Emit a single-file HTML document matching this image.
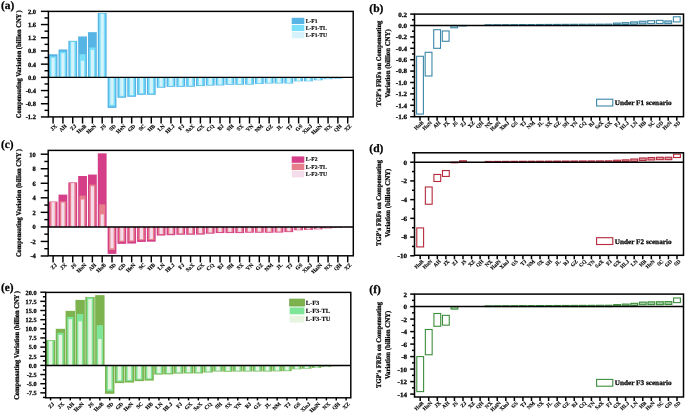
<!DOCTYPE html>
<html><head><meta charset="utf-8"><title>Figure</title>
<style>
html,body{margin:0;padding:0;background:#fff;}
svg{display:block;will-change:transform;}
text{text-rendering:geometricPrecision;font-family:'Liberation Serif', serif;font-weight:bold;fill:#000;stroke:#000;stroke-width:0.25px;}
text.xl{stroke-width:0.12px;}
</style></head><body>
<svg width="685" height="414" viewBox="0 0 685 414">
<rect width="685" height="414" fill="#fff"/>
<rect x="48.7" y="54.25" width="8.8" height="23.1" fill="#57B5E5"/>
<rect x="50.05" y="56.39" width="6.1" height="20.95" fill="#7ADFF9"/>
<rect x="51.5" y="57.88" width="3.2" height="19.47" fill="#D6F3FB"/>
<rect x="58.52" y="49.46" width="8.8" height="27.88" fill="#57B5E5"/>
<rect x="59.87" y="51.77" width="6.1" height="25.58" fill="#7ADFF9"/>
<rect x="61.32" y="53.26" width="3.2" height="24.09" fill="#D6F3FB"/>
<rect x="68.34" y="40.85" width="8.8" height="36.5" fill="#57B5E5"/>
<rect x="69.69" y="41.38" width="6.1" height="35.97" fill="#7ADFF9"/>
<rect x="71.14" y="42.04" width="3.2" height="35.31" fill="#D6F3FB"/>
<rect x="78.16" y="36.43" width="8.8" height="40.92" fill="#57B5E5"/>
<rect x="79.51" y="54.25" width="6.1" height="23.1" fill="#7ADFF9"/>
<rect x="80.96" y="60.85" width="3.2" height="16.5" fill="#D6F3FB"/>
<rect x="87.98" y="32.14" width="8.8" height="45.21" fill="#57B5E5"/>
<rect x="89.33" y="47.45" width="6.1" height="29.9" fill="#7ADFF9"/>
<rect x="90.78" y="49.96" width="3.2" height="27.39" fill="#D6F3FB"/>
<rect x="97.8" y="13" width="8.8" height="64.35" fill="#57B5E5"/>
<rect x="99.15" y="13.33" width="6.1" height="64.02" fill="#7ADFF9"/>
<rect x="100.6" y="13.82" width="3.2" height="63.52" fill="#D6F3FB"/>
<rect x="107.62" y="77.35" width="8.8" height="30.59" fill="#57B5E5"/>
<rect x="108.97" y="77.35" width="6.1" height="28.88" fill="#7ADFF9"/>
<rect x="110.42" y="77.35" width="3.2" height="27.39" fill="#D6F3FB"/>
<rect x="117.44" y="77.35" width="8.8" height="20.39" fill="#57B5E5"/>
<rect x="118.79" y="77.35" width="6.1" height="19.31" fill="#7ADFF9"/>
<rect x="120.24" y="77.35" width="3.2" height="18.48" fill="#D6F3FB"/>
<rect x="127.26" y="77.35" width="8.8" height="19.47" fill="#57B5E5"/>
<rect x="128.61" y="77.35" width="6.1" height="18.48" fill="#7ADFF9"/>
<rect x="130.06" y="77.35" width="3.2" height="17.66" fill="#D6F3FB"/>
<rect x="137.08" y="77.35" width="8.8" height="17.49" fill="#57B5E5"/>
<rect x="138.43" y="77.35" width="6.1" height="16.5" fill="#7ADFF9"/>
<rect x="139.88" y="77.35" width="3.2" height="15.84" fill="#D6F3FB"/>
<rect x="146.9" y="77.35" width="8.8" height="17.49" fill="#57B5E5"/>
<rect x="148.25" y="77.35" width="6.1" height="16.5" fill="#7ADFF9"/>
<rect x="149.7" y="77.35" width="3.2" height="15.84" fill="#D6F3FB"/>
<rect x="156.72" y="77.35" width="8.8" height="10.39" fill="#57B5E5"/>
<rect x="158.07" y="77.35" width="6.1" height="9.73" fill="#7ADFF9"/>
<rect x="159.52" y="77.35" width="3.2" height="9.24" fill="#D6F3FB"/>
<rect x="166.54" y="77.35" width="8.8" height="9.5" fill="#57B5E5"/>
<rect x="167.89" y="77.35" width="6.1" height="8.91" fill="#7ADFF9"/>
<rect x="169.34" y="77.35" width="3.2" height="8.42" fill="#D6F3FB"/>
<rect x="176.36" y="77.35" width="8.8" height="9.5" fill="#57B5E5"/>
<rect x="177.71" y="77.35" width="6.1" height="8.91" fill="#7ADFF9"/>
<rect x="179.16" y="77.35" width="3.2" height="8.42" fill="#D6F3FB"/>
<rect x="186.18" y="77.35" width="8.8" height="9.41" fill="#57B5E5"/>
<rect x="187.53" y="77.35" width="6.1" height="8.81" fill="#7ADFF9"/>
<rect x="188.98" y="77.35" width="3.2" height="8.25" fill="#D6F3FB"/>
<rect x="196" y="77.35" width="8.8" height="8.75" fill="#57B5E5"/>
<rect x="197.35" y="77.35" width="6.1" height="8.18" fill="#7ADFF9"/>
<rect x="198.8" y="77.35" width="3.2" height="7.75" fill="#D6F3FB"/>
<rect x="205.82" y="77.35" width="8.8" height="8.25" fill="#57B5E5"/>
<rect x="207.17" y="77.35" width="6.1" height="7.75" fill="#7ADFF9"/>
<rect x="208.62" y="77.35" width="3.2" height="7.26" fill="#D6F3FB"/>
<rect x="215.64" y="77.35" width="8.8" height="8.08" fill="#57B5E5"/>
<rect x="216.99" y="77.35" width="6.1" height="7.59" fill="#7ADFF9"/>
<rect x="218.44" y="77.35" width="3.2" height="7.09" fill="#D6F3FB"/>
<rect x="225.46" y="77.35" width="8.8" height="7.42" fill="#57B5E5"/>
<rect x="226.81" y="77.35" width="6.1" height="6.93" fill="#7ADFF9"/>
<rect x="228.26" y="77.35" width="3.2" height="6.6" fill="#D6F3FB"/>
<rect x="235.28" y="77.35" width="8.8" height="7.42" fill="#57B5E5"/>
<rect x="236.63" y="77.35" width="6.1" height="6.93" fill="#7ADFF9"/>
<rect x="238.08" y="77.35" width="3.2" height="6.6" fill="#D6F3FB"/>
<rect x="245.1" y="77.35" width="8.8" height="7.26" fill="#57B5E5"/>
<rect x="246.45" y="77.35" width="6.1" height="6.77" fill="#7ADFF9"/>
<rect x="247.9" y="77.35" width="3.2" height="6.44" fill="#D6F3FB"/>
<rect x="254.92" y="77.35" width="8.8" height="6.6" fill="#57B5E5"/>
<rect x="256.27" y="77.35" width="6.1" height="6.17" fill="#7ADFF9"/>
<rect x="257.72" y="77.35" width="3.2" height="5.84" fill="#D6F3FB"/>
<rect x="264.74" y="77.35" width="8.8" height="6.11" fill="#57B5E5"/>
<rect x="266.09" y="77.35" width="6.1" height="5.71" fill="#7ADFF9"/>
<rect x="267.54" y="77.35" width="3.2" height="5.38" fill="#D6F3FB"/>
<rect x="274.56" y="77.35" width="8.8" height="6.11" fill="#57B5E5"/>
<rect x="275.91" y="77.35" width="6.1" height="5.71" fill="#7ADFF9"/>
<rect x="277.36" y="77.35" width="3.2" height="5.38" fill="#D6F3FB"/>
<rect x="284.38" y="77.35" width="8.8" height="6.11" fill="#57B5E5"/>
<rect x="285.73" y="77.35" width="6.1" height="5.71" fill="#7ADFF9"/>
<rect x="287.18" y="77.35" width="3.2" height="5.38" fill="#D6F3FB"/>
<rect x="294.2" y="77.35" width="8.8" height="3.96" fill="#57B5E5"/>
<rect x="295.55" y="77.35" width="6.1" height="3.63" fill="#7ADFF9"/>
<rect x="297" y="77.35" width="3.2" height="3.3" fill="#D6F3FB"/>
<rect x="304.02" y="77.35" width="8.8" height="3.96" fill="#57B5E5"/>
<rect x="305.37" y="77.35" width="6.1" height="3.63" fill="#7ADFF9"/>
<rect x="306.82" y="77.35" width="3.2" height="3.3" fill="#D6F3FB"/>
<rect x="313.84" y="77.35" width="8.8" height="2.9" fill="#57B5E5"/>
<rect x="315.19" y="77.35" width="6.1" height="2.64" fill="#7ADFF9"/>
<rect x="316.64" y="77.35" width="3.2" height="2.38" fill="#D6F3FB"/>
<rect x="323.66" y="77.35" width="8.8" height="1.81" fill="#57B5E5"/>
<rect x="325.01" y="77.35" width="6.1" height="1.58" fill="#7ADFF9"/>
<rect x="326.46" y="77.35" width="3.2" height="1.39" fill="#D6F3FB"/>
<rect x="333.48" y="77.35" width="8.8" height="1.16" fill="#57B5E5"/>
<rect x="334.83" y="77.35" width="6.1" height="0.99" fill="#7ADFF9"/>
<rect x="336.28" y="77.35" width="3.2" height="0.83" fill="#D6F3FB"/>
<rect x="343.3" y="77.35" width="8.8" height="0.4" fill="#57B5E5"/>
<rect x="344.65" y="77.35" width="6.1" height="0.33" fill="#7ADFF9"/>
<rect x="346.1" y="77.35" width="3.2" height="0.26" fill="#D6F3FB"/>
<line x1="48.4" y1="77.35" x2="353.2" y2="77.35" stroke="#000" stroke-width="1.45"/>
<rect x="48.4" y="11.4" width="304.8" height="105.5" fill="none" stroke="#000" stroke-width="1.45"/>
<line x1="40.9" y1="11.35" x2="48.4" y2="11.35" stroke="#000" stroke-width="1.45"/>
<text transform="translate(36,13.79) scale(1.0,1)" font-size="6.5" text-anchor="end">2.0</text>
<line x1="40.9" y1="24.55" x2="48.4" y2="24.55" stroke="#000" stroke-width="1.45"/>
<text transform="translate(36,26.99) scale(1.0,1)" font-size="6.5" text-anchor="end">1.6</text>
<line x1="40.9" y1="37.75" x2="48.4" y2="37.75" stroke="#000" stroke-width="1.45"/>
<text transform="translate(36,40.19) scale(1.0,1)" font-size="6.5" text-anchor="end">1.2</text>
<line x1="40.9" y1="50.95" x2="48.4" y2="50.95" stroke="#000" stroke-width="1.45"/>
<text transform="translate(36,53.39) scale(1.0,1)" font-size="6.5" text-anchor="end">0.8</text>
<line x1="40.9" y1="64.15" x2="48.4" y2="64.15" stroke="#000" stroke-width="1.45"/>
<text transform="translate(36,66.59) scale(1.0,1)" font-size="6.5" text-anchor="end">0.4</text>
<line x1="40.9" y1="77.35" x2="48.4" y2="77.35" stroke="#000" stroke-width="1.45"/>
<text transform="translate(36,79.79) scale(1.0,1)" font-size="6.5" text-anchor="end">0.0</text>
<line x1="40.9" y1="90.55" x2="48.4" y2="90.55" stroke="#000" stroke-width="1.45"/>
<text transform="translate(36,92.99) scale(1.0,1)" font-size="6.5" text-anchor="end">-0.4</text>
<line x1="40.9" y1="103.75" x2="48.4" y2="103.75" stroke="#000" stroke-width="1.45"/>
<text transform="translate(36,106.19) scale(1.0,1)" font-size="6.5" text-anchor="end">-0.8</text>
<line x1="40.9" y1="116.95" x2="48.4" y2="116.95" stroke="#000" stroke-width="1.45"/>
<text transform="translate(36,119.39) scale(1.0,1)" font-size="6.5" text-anchor="end">-1.2</text>
<line x1="44.5" y1="17.95" x2="48.4" y2="17.95" stroke="#000" stroke-width="1.45"/>
<line x1="44.5" y1="31.15" x2="48.4" y2="31.15" stroke="#000" stroke-width="1.45"/>
<line x1="44.5" y1="44.35" x2="48.4" y2="44.35" stroke="#000" stroke-width="1.45"/>
<line x1="44.5" y1="57.55" x2="48.4" y2="57.55" stroke="#000" stroke-width="1.45"/>
<line x1="44.5" y1="70.75" x2="48.4" y2="70.75" stroke="#000" stroke-width="1.45"/>
<line x1="44.5" y1="83.95" x2="48.4" y2="83.95" stroke="#000" stroke-width="1.45"/>
<line x1="44.5" y1="97.15" x2="48.4" y2="97.15" stroke="#000" stroke-width="1.45"/>
<line x1="44.5" y1="110.35" x2="48.4" y2="110.35" stroke="#000" stroke-width="1.45"/>
<line x1="53.1" y1="116.9" x2="53.1" y2="123.5" stroke="#000" stroke-width="1.45"/>
<text transform="translate(57.4,126.5) scale(1.09,1) rotate(-45)" font-size="5.2" text-anchor="end" class="xl">JX</text>
<line x1="62.92" y1="116.9" x2="62.92" y2="123.5" stroke="#000" stroke-width="1.45"/>
<text transform="translate(67.22,126.5) scale(1.09,1) rotate(-45)" font-size="5.2" text-anchor="end" class="xl">AH</text>
<line x1="72.74" y1="116.9" x2="72.74" y2="123.5" stroke="#000" stroke-width="1.45"/>
<text transform="translate(77.04,126.5) scale(1.09,1) rotate(-45)" font-size="5.2" text-anchor="end" class="xl">ZJ</text>
<line x1="82.56" y1="116.9" x2="82.56" y2="123.5" stroke="#000" stroke-width="1.45"/>
<text transform="translate(86.86,126.5) scale(1.09,1) rotate(-45)" font-size="5.2" text-anchor="end" class="xl">HuB</text>
<line x1="92.38" y1="116.9" x2="92.38" y2="123.5" stroke="#000" stroke-width="1.45"/>
<text transform="translate(96.68,126.5) scale(1.09,1) rotate(-45)" font-size="5.2" text-anchor="end" class="xl">HuN</text>
<line x1="102.2" y1="116.9" x2="102.2" y2="123.5" stroke="#000" stroke-width="1.45"/>
<text transform="translate(106.5,126.5) scale(1.09,1) rotate(-45)" font-size="5.2" text-anchor="end" class="xl">JS</text>
<line x1="112.02" y1="116.9" x2="112.02" y2="123.5" stroke="#000" stroke-width="1.45"/>
<text transform="translate(116.32,126.5) scale(1.09,1) rotate(-45)" font-size="5.2" text-anchor="end" class="xl">SD</text>
<line x1="121.84" y1="116.9" x2="121.84" y2="123.5" stroke="#000" stroke-width="1.45"/>
<text transform="translate(126.14,126.5) scale(1.09,1) rotate(-45)" font-size="5.2" text-anchor="end" class="xl">HeN</text>
<line x1="131.66" y1="116.9" x2="131.66" y2="123.5" stroke="#000" stroke-width="1.45"/>
<text transform="translate(135.96,126.5) scale(1.09,1) rotate(-45)" font-size="5.2" text-anchor="end" class="xl">GD</text>
<line x1="141.48" y1="116.9" x2="141.48" y2="123.5" stroke="#000" stroke-width="1.45"/>
<text transform="translate(145.78,126.5) scale(1.09,1) rotate(-45)" font-size="5.2" text-anchor="end" class="xl">SC</text>
<line x1="151.3" y1="116.9" x2="151.3" y2="123.5" stroke="#000" stroke-width="1.45"/>
<text transform="translate(155.6,126.5) scale(1.09,1) rotate(-45)" font-size="5.2" text-anchor="end" class="xl">HB</text>
<line x1="161.12" y1="116.9" x2="161.12" y2="123.5" stroke="#000" stroke-width="1.45"/>
<text transform="translate(165.42,126.5) scale(1.09,1) rotate(-45)" font-size="5.2" text-anchor="end" class="xl">LN</text>
<line x1="170.94" y1="116.9" x2="170.94" y2="123.5" stroke="#000" stroke-width="1.45"/>
<text transform="translate(175.24,126.5) scale(1.09,1) rotate(-45)" font-size="5.2" text-anchor="end" class="xl">HLJ</text>
<line x1="180.76" y1="116.9" x2="180.76" y2="123.5" stroke="#000" stroke-width="1.45"/>
<text transform="translate(185.06,126.5) scale(1.09,1) rotate(-45)" font-size="5.2" text-anchor="end" class="xl">FJ</text>
<line x1="190.58" y1="116.9" x2="190.58" y2="123.5" stroke="#000" stroke-width="1.45"/>
<text transform="translate(194.88,126.5) scale(1.09,1) rotate(-45)" font-size="5.2" text-anchor="end" class="xl">SaX</text>
<line x1="200.4" y1="116.9" x2="200.4" y2="123.5" stroke="#000" stroke-width="1.45"/>
<text transform="translate(204.7,126.5) scale(1.09,1) rotate(-45)" font-size="5.2" text-anchor="end" class="xl">GX</text>
<line x1="210.22" y1="116.9" x2="210.22" y2="123.5" stroke="#000" stroke-width="1.45"/>
<text transform="translate(214.52,126.5) scale(1.09,1) rotate(-45)" font-size="5.2" text-anchor="end" class="xl">CQ</text>
<line x1="220.04" y1="116.9" x2="220.04" y2="123.5" stroke="#000" stroke-width="1.45"/>
<text transform="translate(224.34,126.5) scale(1.09,1) rotate(-45)" font-size="5.2" text-anchor="end" class="xl">BJ</text>
<line x1="229.86" y1="116.9" x2="229.86" y2="123.5" stroke="#000" stroke-width="1.45"/>
<text transform="translate(234.16,126.5) scale(1.09,1) rotate(-45)" font-size="5.2" text-anchor="end" class="xl">SH</text>
<line x1="239.68" y1="116.9" x2="239.68" y2="123.5" stroke="#000" stroke-width="1.45"/>
<text transform="translate(243.98,126.5) scale(1.09,1) rotate(-45)" font-size="5.2" text-anchor="end" class="xl">SX</text>
<line x1="249.5" y1="116.9" x2="249.5" y2="123.5" stroke="#000" stroke-width="1.45"/>
<text transform="translate(253.8,126.5) scale(1.09,1) rotate(-45)" font-size="5.2" text-anchor="end" class="xl">YN</text>
<line x1="259.32" y1="116.9" x2="259.32" y2="123.5" stroke="#000" stroke-width="1.45"/>
<text transform="translate(263.62,126.5) scale(1.09,1) rotate(-45)" font-size="5.2" text-anchor="end" class="xl">NM</text>
<line x1="269.14" y1="116.9" x2="269.14" y2="123.5" stroke="#000" stroke-width="1.45"/>
<text transform="translate(273.44,126.5) scale(1.09,1) rotate(-45)" font-size="5.2" text-anchor="end" class="xl">GZ</text>
<line x1="278.96" y1="116.9" x2="278.96" y2="123.5" stroke="#000" stroke-width="1.45"/>
<text transform="translate(283.26,126.5) scale(1.09,1) rotate(-45)" font-size="5.2" text-anchor="end" class="xl">JL</text>
<line x1="288.78" y1="116.9" x2="288.78" y2="123.5" stroke="#000" stroke-width="1.45"/>
<text transform="translate(293.08,126.5) scale(1.09,1) rotate(-45)" font-size="5.2" text-anchor="end" class="xl">TJ</text>
<line x1="298.6" y1="116.9" x2="298.6" y2="123.5" stroke="#000" stroke-width="1.45"/>
<text transform="translate(302.9,126.5) scale(1.09,1) rotate(-45)" font-size="5.2" text-anchor="end" class="xl">GS</text>
<line x1="308.42" y1="116.9" x2="308.42" y2="123.5" stroke="#000" stroke-width="1.45"/>
<text transform="translate(312.72,126.5) scale(1.09,1) rotate(-45)" font-size="5.2" text-anchor="end" class="xl">XinJ</text>
<line x1="318.24" y1="116.9" x2="318.24" y2="123.5" stroke="#000" stroke-width="1.45"/>
<text transform="translate(322.54,126.5) scale(1.09,1) rotate(-45)" font-size="5.2" text-anchor="end" class="xl">HaiN</text>
<line x1="328.06" y1="116.9" x2="328.06" y2="123.5" stroke="#000" stroke-width="1.45"/>
<text transform="translate(332.36,126.5) scale(1.09,1) rotate(-45)" font-size="5.2" text-anchor="end" class="xl">NX</text>
<line x1="337.88" y1="116.9" x2="337.88" y2="123.5" stroke="#000" stroke-width="1.45"/>
<text transform="translate(342.18,126.5) scale(1.09,1) rotate(-45)" font-size="5.2" text-anchor="end" class="xl">QH</text>
<line x1="347.7" y1="116.9" x2="347.7" y2="123.5" stroke="#000" stroke-width="1.45"/>
<text transform="translate(352,126.5) scale(1.09,1) rotate(-45)" font-size="5.2" text-anchor="end" class="xl">XZ</text>
<text transform="translate(20.8,64.2) rotate(-90) scale(1,1.09)" font-size="6.47" text-anchor="middle">Compensating Variation (billion CNY )</text>
<text x="0.9" y="8.8" font-size="11.4">(a)</text>
<rect x="291.7" y="17.8" width="12.6" height="6.2" fill="#57B5E5"/>
<text transform="translate(305.7,22.75) scale(1.0,1)" font-size="5.6" class="xl">L-F1</text>
<rect x="291.7" y="24.9" width="12.6" height="6.2" fill="#7ADFF9"/>
<text transform="translate(305.7,29.85) scale(1.0,1)" font-size="5.6" class="xl">L-F1-TL</text>
<rect x="291.7" y="32" width="12.6" height="6.2" fill="#D6F3FB"/>
<text transform="translate(305.7,36.95) scale(1.0,1)" font-size="5.6" class="xl">L-F1-TU</text>
<rect x="48.7" y="201.6" width="8.8" height="25.3" fill="#D53F88"/>
<rect x="50.05" y="201.89" width="6.1" height="25.01" fill="#E67E8B"/>
<rect x="51.5" y="202.18" width="3.2" height="24.72" fill="#F5DCEA"/>
<rect x="58.52" y="194.62" width="8.8" height="32.28" fill="#D53F88"/>
<rect x="59.87" y="201.31" width="6.1" height="25.59" fill="#E67E8B"/>
<rect x="61.32" y="202.55" width="3.2" height="24.35" fill="#F5DCEA"/>
<rect x="68.34" y="182.41" width="8.8" height="44.49" fill="#D53F88"/>
<rect x="69.69" y="182.7" width="6.1" height="44.2" fill="#E67E8B"/>
<rect x="71.14" y="183.13" width="3.2" height="43.77" fill="#F5DCEA"/>
<rect x="78.16" y="176.01" width="8.8" height="50.89" fill="#D53F88"/>
<rect x="79.51" y="195.64" width="6.1" height="31.26" fill="#E67E8B"/>
<rect x="80.96" y="199.49" width="3.2" height="27.41" fill="#F5DCEA"/>
<rect x="87.98" y="174.56" width="8.8" height="52.34" fill="#D53F88"/>
<rect x="89.33" y="184.52" width="6.1" height="42.38" fill="#E67E8B"/>
<rect x="90.78" y="186.19" width="3.2" height="40.71" fill="#F5DCEA"/>
<rect x="97.8" y="153.33" width="8.8" height="73.57" fill="#D53F88"/>
<rect x="99.15" y="204.36" width="6.1" height="22.54" fill="#E67E8B"/>
<rect x="100.6" y="214.32" width="3.2" height="12.58" fill="#F5DCEA"/>
<rect x="107.62" y="226.9" width="8.8" height="26.97" fill="#D53F88"/>
<rect x="108.97" y="226.9" width="6.1" height="23.26" fill="#E67E8B"/>
<rect x="110.42" y="226.9" width="3.2" height="21.45" fill="#F5DCEA"/>
<rect x="117.44" y="226.9" width="8.8" height="16.94" fill="#D53F88"/>
<rect x="118.79" y="226.9" width="6.1" height="14.9" fill="#E67E8B"/>
<rect x="120.24" y="226.9" width="3.2" height="13.81" fill="#F5DCEA"/>
<rect x="127.26" y="226.9" width="8.8" height="16.65" fill="#D53F88"/>
<rect x="128.61" y="226.9" width="6.1" height="14.69" fill="#E67E8B"/>
<rect x="130.06" y="226.9" width="3.2" height="13.59" fill="#F5DCEA"/>
<rect x="137.08" y="226.9" width="8.8" height="15.05" fill="#D53F88"/>
<rect x="138.43" y="226.9" width="6.1" height="13.3" fill="#E67E8B"/>
<rect x="139.88" y="226.9" width="3.2" height="12.36" fill="#F5DCEA"/>
<rect x="146.9" y="226.9" width="8.8" height="14.76" fill="#D53F88"/>
<rect x="148.25" y="226.9" width="6.1" height="13.09" fill="#E67E8B"/>
<rect x="149.7" y="226.9" width="3.2" height="12.14" fill="#F5DCEA"/>
<rect x="156.72" y="226.9" width="8.8" height="8.65" fill="#D53F88"/>
<rect x="158.07" y="226.9" width="6.1" height="7.63" fill="#E67E8B"/>
<rect x="159.52" y="226.9" width="3.2" height="7.05" fill="#F5DCEA"/>
<rect x="166.54" y="226.9" width="8.8" height="8.29" fill="#D53F88"/>
<rect x="167.89" y="226.9" width="6.1" height="7.27" fill="#E67E8B"/>
<rect x="169.34" y="226.9" width="3.2" height="6.76" fill="#F5DCEA"/>
<rect x="176.36" y="226.9" width="8.8" height="7.85" fill="#D53F88"/>
<rect x="177.71" y="226.9" width="6.1" height="6.91" fill="#E67E8B"/>
<rect x="179.16" y="226.9" width="3.2" height="6.4" fill="#F5DCEA"/>
<rect x="186.18" y="226.9" width="8.8" height="7.85" fill="#D53F88"/>
<rect x="187.53" y="226.9" width="6.1" height="6.91" fill="#E67E8B"/>
<rect x="188.98" y="226.9" width="3.2" height="6.4" fill="#F5DCEA"/>
<rect x="196" y="226.9" width="8.8" height="7.71" fill="#D53F88"/>
<rect x="197.35" y="226.9" width="6.1" height="6.76" fill="#E67E8B"/>
<rect x="198.8" y="226.9" width="3.2" height="6.25" fill="#F5DCEA"/>
<rect x="205.82" y="226.9" width="8.8" height="6.76" fill="#D53F88"/>
<rect x="207.17" y="226.9" width="6.1" height="5.96" fill="#E67E8B"/>
<rect x="208.62" y="226.9" width="3.2" height="5.53" fill="#F5DCEA"/>
<rect x="215.64" y="226.9" width="8.8" height="6.18" fill="#D53F88"/>
<rect x="216.99" y="226.9" width="6.1" height="5.45" fill="#E67E8B"/>
<rect x="218.44" y="226.9" width="3.2" height="5.02" fill="#F5DCEA"/>
<rect x="225.46" y="226.9" width="8.8" height="6.18" fill="#D53F88"/>
<rect x="226.81" y="226.9" width="6.1" height="5.45" fill="#E67E8B"/>
<rect x="228.26" y="226.9" width="3.2" height="5.02" fill="#F5DCEA"/>
<rect x="235.28" y="226.9" width="8.8" height="6.18" fill="#D53F88"/>
<rect x="236.63" y="226.9" width="6.1" height="5.45" fill="#E67E8B"/>
<rect x="238.08" y="226.9" width="3.2" height="5.02" fill="#F5DCEA"/>
<rect x="245.1" y="226.9" width="8.8" height="5.82" fill="#D53F88"/>
<rect x="246.45" y="226.9" width="6.1" height="5.09" fill="#E67E8B"/>
<rect x="247.9" y="226.9" width="3.2" height="4.73" fill="#F5DCEA"/>
<rect x="254.92" y="226.9" width="8.8" height="5.82" fill="#D53F88"/>
<rect x="256.27" y="226.9" width="6.1" height="5.09" fill="#E67E8B"/>
<rect x="257.72" y="226.9" width="3.2" height="4.73" fill="#F5DCEA"/>
<rect x="264.74" y="226.9" width="8.8" height="5.82" fill="#D53F88"/>
<rect x="266.09" y="226.9" width="6.1" height="5.09" fill="#E67E8B"/>
<rect x="267.54" y="226.9" width="3.2" height="4.73" fill="#F5DCEA"/>
<rect x="274.56" y="226.9" width="8.8" height="5.67" fill="#D53F88"/>
<rect x="275.91" y="226.9" width="6.1" height="4.94" fill="#E67E8B"/>
<rect x="277.36" y="226.9" width="3.2" height="4.58" fill="#F5DCEA"/>
<rect x="284.38" y="226.9" width="8.8" height="5.23" fill="#D53F88"/>
<rect x="285.73" y="226.9" width="6.1" height="4.58" fill="#E67E8B"/>
<rect x="287.18" y="226.9" width="3.2" height="4.22" fill="#F5DCEA"/>
<rect x="294.2" y="226.9" width="8.8" height="3.34" fill="#D53F88"/>
<rect x="295.55" y="226.9" width="6.1" height="2.91" fill="#E67E8B"/>
<rect x="297" y="226.9" width="3.2" height="2.69" fill="#F5DCEA"/>
<rect x="304.02" y="226.9" width="8.8" height="2.98" fill="#D53F88"/>
<rect x="305.37" y="226.9" width="6.1" height="2.62" fill="#E67E8B"/>
<rect x="306.82" y="226.9" width="3.2" height="2.4" fill="#F5DCEA"/>
<rect x="313.84" y="226.9" width="8.8" height="2.4" fill="#D53F88"/>
<rect x="315.19" y="226.9" width="6.1" height="2.11" fill="#E67E8B"/>
<rect x="316.64" y="226.9" width="3.2" height="1.89" fill="#F5DCEA"/>
<rect x="323.66" y="226.9" width="8.8" height="1.45" fill="#D53F88"/>
<rect x="325.01" y="226.9" width="6.1" height="1.24" fill="#E67E8B"/>
<rect x="326.46" y="226.9" width="3.2" height="1.09" fill="#F5DCEA"/>
<rect x="333.48" y="226.9" width="8.8" height="0.87" fill="#D53F88"/>
<rect x="334.83" y="226.9" width="6.1" height="0.73" fill="#E67E8B"/>
<rect x="336.28" y="226.9" width="3.2" height="0.65" fill="#F5DCEA"/>
<rect x="343.3" y="226.9" width="8.8" height="0.22" fill="#D53F88"/>
<rect x="344.65" y="226.9" width="6.1" height="0.18" fill="#E67E8B"/>
<rect x="346.1" y="226.9" width="3.2" height="0.15" fill="#F5DCEA"/>
<line x1="48.2" y1="226.9" x2="353.3" y2="226.9" stroke="#000" stroke-width="1.45"/>
<rect x="48.2" y="150.4" width="305.1" height="105.4" fill="none" stroke="#000" stroke-width="1.45"/>
<line x1="40.7" y1="154.2" x2="48.2" y2="154.2" stroke="#000" stroke-width="1.45"/>
<text transform="translate(35.8,156.65) scale(1.0,1)" font-size="6.5" text-anchor="end">10</text>
<line x1="40.7" y1="168.74" x2="48.2" y2="168.74" stroke="#000" stroke-width="1.45"/>
<text transform="translate(35.8,171.19) scale(1.0,1)" font-size="6.5" text-anchor="end">8</text>
<line x1="40.7" y1="183.28" x2="48.2" y2="183.28" stroke="#000" stroke-width="1.45"/>
<text transform="translate(35.8,185.73) scale(1.0,1)" font-size="6.5" text-anchor="end">6</text>
<line x1="40.7" y1="197.82" x2="48.2" y2="197.82" stroke="#000" stroke-width="1.45"/>
<text transform="translate(35.8,200.27) scale(1.0,1)" font-size="6.5" text-anchor="end">4</text>
<line x1="40.7" y1="212.36" x2="48.2" y2="212.36" stroke="#000" stroke-width="1.45"/>
<text transform="translate(35.8,214.81) scale(1.0,1)" font-size="6.5" text-anchor="end">2</text>
<line x1="40.7" y1="226.9" x2="48.2" y2="226.9" stroke="#000" stroke-width="1.45"/>
<text transform="translate(35.8,229.35) scale(1.0,1)" font-size="6.5" text-anchor="end">0</text>
<line x1="40.7" y1="241.44" x2="48.2" y2="241.44" stroke="#000" stroke-width="1.45"/>
<text transform="translate(35.8,243.89) scale(1.0,1)" font-size="6.5" text-anchor="end">-2</text>
<line x1="40.7" y1="255.98" x2="48.2" y2="255.98" stroke="#000" stroke-width="1.45"/>
<text transform="translate(35.8,258.43) scale(1.0,1)" font-size="6.5" text-anchor="end">-4</text>
<line x1="44.3" y1="161.47" x2="48.2" y2="161.47" stroke="#000" stroke-width="1.45"/>
<line x1="44.3" y1="176.01" x2="48.2" y2="176.01" stroke="#000" stroke-width="1.45"/>
<line x1="44.3" y1="190.55" x2="48.2" y2="190.55" stroke="#000" stroke-width="1.45"/>
<line x1="44.3" y1="205.09" x2="48.2" y2="205.09" stroke="#000" stroke-width="1.45"/>
<line x1="44.3" y1="219.63" x2="48.2" y2="219.63" stroke="#000" stroke-width="1.45"/>
<line x1="44.3" y1="234.17" x2="48.2" y2="234.17" stroke="#000" stroke-width="1.45"/>
<line x1="44.3" y1="248.71" x2="48.2" y2="248.71" stroke="#000" stroke-width="1.45"/>
<line x1="53.1" y1="255.8" x2="53.1" y2="262.4" stroke="#000" stroke-width="1.45"/>
<text transform="translate(57.4,265.4) scale(1.09,1) rotate(-45)" font-size="5.2" text-anchor="end" class="xl">ZJ</text>
<line x1="62.92" y1="255.8" x2="62.92" y2="262.4" stroke="#000" stroke-width="1.45"/>
<text transform="translate(67.22,265.4) scale(1.09,1) rotate(-45)" font-size="5.2" text-anchor="end" class="xl">JX</text>
<line x1="72.74" y1="255.8" x2="72.74" y2="262.4" stroke="#000" stroke-width="1.45"/>
<text transform="translate(77.04,265.4) scale(1.09,1) rotate(-45)" font-size="5.2" text-anchor="end" class="xl">JS</text>
<line x1="82.56" y1="255.8" x2="82.56" y2="262.4" stroke="#000" stroke-width="1.45"/>
<text transform="translate(86.86,265.4) scale(1.09,1) rotate(-45)" font-size="5.2" text-anchor="end" class="xl">HuN</text>
<line x1="92.38" y1="255.8" x2="92.38" y2="262.4" stroke="#000" stroke-width="1.45"/>
<text transform="translate(96.68,265.4) scale(1.09,1) rotate(-45)" font-size="5.2" text-anchor="end" class="xl">AH</text>
<line x1="102.2" y1="255.8" x2="102.2" y2="262.4" stroke="#000" stroke-width="1.45"/>
<text transform="translate(106.5,265.4) scale(1.09,1) rotate(-45)" font-size="5.2" text-anchor="end" class="xl">HuB</text>
<line x1="112.02" y1="255.8" x2="112.02" y2="262.4" stroke="#000" stroke-width="1.45"/>
<text transform="translate(116.32,265.4) scale(1.09,1) rotate(-45)" font-size="5.2" text-anchor="end" class="xl">SD</text>
<line x1="121.84" y1="255.8" x2="121.84" y2="262.4" stroke="#000" stroke-width="1.45"/>
<text transform="translate(126.14,265.4) scale(1.09,1) rotate(-45)" font-size="5.2" text-anchor="end" class="xl">GD</text>
<line x1="131.66" y1="255.8" x2="131.66" y2="262.4" stroke="#000" stroke-width="1.45"/>
<text transform="translate(135.96,265.4) scale(1.09,1) rotate(-45)" font-size="5.2" text-anchor="end" class="xl">HeN</text>
<line x1="141.48" y1="255.8" x2="141.48" y2="262.4" stroke="#000" stroke-width="1.45"/>
<text transform="translate(145.78,265.4) scale(1.09,1) rotate(-45)" font-size="5.2" text-anchor="end" class="xl">SC</text>
<line x1="151.3" y1="255.8" x2="151.3" y2="262.4" stroke="#000" stroke-width="1.45"/>
<text transform="translate(155.6,265.4) scale(1.09,1) rotate(-45)" font-size="5.2" text-anchor="end" class="xl">HB</text>
<line x1="161.12" y1="255.8" x2="161.12" y2="262.4" stroke="#000" stroke-width="1.45"/>
<text transform="translate(165.42,265.4) scale(1.09,1) rotate(-45)" font-size="5.2" text-anchor="end" class="xl">LN</text>
<line x1="170.94" y1="255.8" x2="170.94" y2="262.4" stroke="#000" stroke-width="1.45"/>
<text transform="translate(175.24,265.4) scale(1.09,1) rotate(-45)" font-size="5.2" text-anchor="end" class="xl">HLJ</text>
<line x1="180.76" y1="255.8" x2="180.76" y2="262.4" stroke="#000" stroke-width="1.45"/>
<text transform="translate(185.06,265.4) scale(1.09,1) rotate(-45)" font-size="5.2" text-anchor="end" class="xl">FJ</text>
<line x1="190.58" y1="255.8" x2="190.58" y2="262.4" stroke="#000" stroke-width="1.45"/>
<text transform="translate(194.88,265.4) scale(1.09,1) rotate(-45)" font-size="5.2" text-anchor="end" class="xl">SaX</text>
<line x1="200.4" y1="255.8" x2="200.4" y2="262.4" stroke="#000" stroke-width="1.45"/>
<text transform="translate(204.7,265.4) scale(1.09,1) rotate(-45)" font-size="5.2" text-anchor="end" class="xl">GX</text>
<line x1="210.22" y1="255.8" x2="210.22" y2="262.4" stroke="#000" stroke-width="1.45"/>
<text transform="translate(214.52,265.4) scale(1.09,1) rotate(-45)" font-size="5.2" text-anchor="end" class="xl">CQ</text>
<line x1="220.04" y1="255.8" x2="220.04" y2="262.4" stroke="#000" stroke-width="1.45"/>
<text transform="translate(224.34,265.4) scale(1.09,1) rotate(-45)" font-size="5.2" text-anchor="end" class="xl">BJ</text>
<line x1="229.86" y1="255.8" x2="229.86" y2="262.4" stroke="#000" stroke-width="1.45"/>
<text transform="translate(234.16,265.4) scale(1.09,1) rotate(-45)" font-size="5.2" text-anchor="end" class="xl">SH</text>
<line x1="239.68" y1="255.8" x2="239.68" y2="262.4" stroke="#000" stroke-width="1.45"/>
<text transform="translate(243.98,265.4) scale(1.09,1) rotate(-45)" font-size="5.2" text-anchor="end" class="xl">SX</text>
<line x1="249.5" y1="255.8" x2="249.5" y2="262.4" stroke="#000" stroke-width="1.45"/>
<text transform="translate(253.8,265.4) scale(1.09,1) rotate(-45)" font-size="5.2" text-anchor="end" class="xl">YN</text>
<line x1="259.32" y1="255.8" x2="259.32" y2="262.4" stroke="#000" stroke-width="1.45"/>
<text transform="translate(263.62,265.4) scale(1.09,1) rotate(-45)" font-size="5.2" text-anchor="end" class="xl">GZ</text>
<line x1="269.14" y1="255.8" x2="269.14" y2="262.4" stroke="#000" stroke-width="1.45"/>
<text transform="translate(273.44,265.4) scale(1.09,1) rotate(-45)" font-size="5.2" text-anchor="end" class="xl">NM</text>
<line x1="278.96" y1="255.8" x2="278.96" y2="262.4" stroke="#000" stroke-width="1.45"/>
<text transform="translate(283.26,265.4) scale(1.09,1) rotate(-45)" font-size="5.2" text-anchor="end" class="xl">JL</text>
<line x1="288.78" y1="255.8" x2="288.78" y2="262.4" stroke="#000" stroke-width="1.45"/>
<text transform="translate(293.08,265.4) scale(1.09,1) rotate(-45)" font-size="5.2" text-anchor="end" class="xl">TJ</text>
<line x1="298.6" y1="255.8" x2="298.6" y2="262.4" stroke="#000" stroke-width="1.45"/>
<text transform="translate(302.9,265.4) scale(1.09,1) rotate(-45)" font-size="5.2" text-anchor="end" class="xl">GS</text>
<line x1="308.42" y1="255.8" x2="308.42" y2="262.4" stroke="#000" stroke-width="1.45"/>
<text transform="translate(312.72,265.4) scale(1.09,1) rotate(-45)" font-size="5.2" text-anchor="end" class="xl">XinJ</text>
<line x1="318.24" y1="255.8" x2="318.24" y2="262.4" stroke="#000" stroke-width="1.45"/>
<text transform="translate(322.54,265.4) scale(1.09,1) rotate(-45)" font-size="5.2" text-anchor="end" class="xl">HaiN</text>
<line x1="328.06" y1="255.8" x2="328.06" y2="262.4" stroke="#000" stroke-width="1.45"/>
<text transform="translate(332.36,265.4) scale(1.09,1) rotate(-45)" font-size="5.2" text-anchor="end" class="xl">NX</text>
<line x1="337.88" y1="255.8" x2="337.88" y2="262.4" stroke="#000" stroke-width="1.45"/>
<text transform="translate(342.18,265.4) scale(1.09,1) rotate(-45)" font-size="5.2" text-anchor="end" class="xl">QH</text>
<line x1="347.7" y1="255.8" x2="347.7" y2="262.4" stroke="#000" stroke-width="1.45"/>
<text transform="translate(352,265.4) scale(1.09,1) rotate(-45)" font-size="5.2" text-anchor="end" class="xl">XZ</text>
<text transform="translate(20.8,203.1) rotate(-90) scale(1,1.09)" font-size="6.47" text-anchor="middle">Compensating Variation (billion CNY )</text>
<text x="0.9" y="148.3" font-size="11.4">(c)</text>
<rect x="291.7" y="156.4" width="12.6" height="6.4" fill="#D53F88"/>
<text transform="translate(305.7,161.45) scale(1.0,1)" font-size="5.6" class="xl">L-F2</text>
<rect x="291.7" y="163.7" width="12.6" height="6.4" fill="#E67E8B"/>
<text transform="translate(305.7,168.75) scale(1.0,1)" font-size="5.6" class="xl">L-F2-TL</text>
<rect x="291.7" y="171" width="12.6" height="6.4" fill="#F5DCEA"/>
<text transform="translate(305.7,176.05) scale(1.0,1)" font-size="5.6" class="xl">L-F2-TU</text>
<rect x="45.9" y="340.15" width="9.4" height="25.25" fill="#7CB34F"/>
<rect x="47.45" y="340.51" width="6.3" height="24.89" fill="#7FE599"/>
<rect x="48.85" y="341.06" width="3.5" height="24.34" fill="#E6F4E0"/>
<rect x="55.75" y="328.8" width="9.4" height="36.6" fill="#7CB34F"/>
<rect x="57.3" y="332.83" width="6.3" height="32.57" fill="#7FE599"/>
<rect x="58.7" y="335.02" width="3.5" height="30.38" fill="#E6F4E0"/>
<rect x="65.6" y="310.87" width="9.4" height="54.53" fill="#7CB34F"/>
<rect x="67.15" y="316.9" width="6.3" height="48.5" fill="#7FE599"/>
<rect x="68.55" y="319.28" width="3.5" height="46.12" fill="#E6F4E0"/>
<rect x="75.45" y="299.89" width="9.4" height="65.51" fill="#7CB34F"/>
<rect x="77" y="313.98" width="6.3" height="51.42" fill="#7FE599"/>
<rect x="78.4" y="321.3" width="3.5" height="44.1" fill="#E6F4E0"/>
<rect x="85.3" y="296.96" width="9.4" height="68.44" fill="#7CB34F"/>
<rect x="86.85" y="297.32" width="6.3" height="68.08" fill="#7FE599"/>
<rect x="88.25" y="299.15" width="3.5" height="66.25" fill="#E6F4E0"/>
<rect x="95.15" y="295.13" width="9.4" height="70.27" fill="#7CB34F"/>
<rect x="96.7" y="325.14" width="6.3" height="40.26" fill="#7FE599"/>
<rect x="98.1" y="339.05" width="3.5" height="26.35" fill="#E6F4E0"/>
<rect x="105" y="365.4" width="9.4" height="28.4" fill="#7CB34F"/>
<rect x="106.55" y="365.4" width="6.3" height="25.8" fill="#7FE599"/>
<rect x="107.95" y="365.4" width="3.5" height="24.01" fill="#E6F4E0"/>
<rect x="114.85" y="365.4" width="9.4" height="17.71" fill="#7CB34F"/>
<rect x="116.4" y="365.4" width="6.3" height="16.1" fill="#7FE599"/>
<rect x="117.8" y="365.4" width="3.5" height="15.01" fill="#E6F4E0"/>
<rect x="124.7" y="365.4" width="9.4" height="17.13" fill="#7CB34F"/>
<rect x="126.25" y="365.4" width="6.3" height="15.56" fill="#7FE599"/>
<rect x="127.65" y="365.4" width="3.5" height="14.46" fill="#E6F4E0"/>
<rect x="134.55" y="365.4" width="9.4" height="15.74" fill="#7CB34F"/>
<rect x="136.1" y="365.4" width="6.3" height="14.27" fill="#7FE599"/>
<rect x="137.5" y="365.4" width="3.5" height="13.29" fill="#E6F4E0"/>
<rect x="144.4" y="365.4" width="9.4" height="15.19" fill="#7CB34F"/>
<rect x="145.95" y="365.4" width="6.3" height="13.8" fill="#7FE599"/>
<rect x="147.35" y="365.4" width="3.5" height="12.81" fill="#E6F4E0"/>
<rect x="154.25" y="365.4" width="9.4" height="9.15" fill="#7CB34F"/>
<rect x="155.8" y="365.4" width="6.3" height="8.31" fill="#7FE599"/>
<rect x="157.2" y="365.4" width="3.5" height="7.69" fill="#E6F4E0"/>
<rect x="164.1" y="365.4" width="9.4" height="8.97" fill="#7CB34F"/>
<rect x="165.65" y="365.4" width="6.3" height="8.13" fill="#7FE599"/>
<rect x="167.05" y="365.4" width="3.5" height="7.54" fill="#E6F4E0"/>
<rect x="173.95" y="365.4" width="9.4" height="8.2" fill="#7CB34F"/>
<rect x="175.5" y="365.4" width="6.3" height="7.43" fill="#7FE599"/>
<rect x="176.9" y="365.4" width="3.5" height="6.95" fill="#E6F4E0"/>
<rect x="183.8" y="365.4" width="9.4" height="8.02" fill="#7CB34F"/>
<rect x="185.35" y="365.4" width="6.3" height="7.28" fill="#7FE599"/>
<rect x="186.75" y="365.4" width="3.5" height="6.77" fill="#E6F4E0"/>
<rect x="193.65" y="365.4" width="9.4" height="8.02" fill="#7CB34F"/>
<rect x="195.2" y="365.4" width="6.3" height="7.28" fill="#7FE599"/>
<rect x="196.6" y="365.4" width="3.5" height="6.77" fill="#E6F4E0"/>
<rect x="203.5" y="365.4" width="9.4" height="7.06" fill="#7CB34F"/>
<rect x="205.05" y="365.4" width="6.3" height="6.4" fill="#7FE599"/>
<rect x="206.45" y="365.4" width="3.5" height="5.97" fill="#E6F4E0"/>
<rect x="213.35" y="365.4" width="9.4" height="6.11" fill="#7CB34F"/>
<rect x="214.9" y="365.4" width="6.3" height="5.56" fill="#7FE599"/>
<rect x="216.3" y="365.4" width="3.5" height="5.16" fill="#E6F4E0"/>
<rect x="223.2" y="365.4" width="9.4" height="6.3" fill="#7CB34F"/>
<rect x="224.75" y="365.4" width="6.3" height="5.71" fill="#7FE599"/>
<rect x="226.15" y="365.4" width="3.5" height="5.31" fill="#E6F4E0"/>
<rect x="233.05" y="365.4" width="9.4" height="6.11" fill="#7CB34F"/>
<rect x="234.6" y="365.4" width="6.3" height="5.56" fill="#7FE599"/>
<rect x="236" y="365.4" width="3.5" height="5.16" fill="#E6F4E0"/>
<rect x="242.9" y="365.4" width="9.4" height="6.11" fill="#7CB34F"/>
<rect x="244.45" y="365.4" width="6.3" height="5.56" fill="#7FE599"/>
<rect x="245.85" y="365.4" width="3.5" height="5.16" fill="#E6F4E0"/>
<rect x="252.75" y="365.4" width="9.4" height="6.11" fill="#7CB34F"/>
<rect x="254.3" y="365.4" width="6.3" height="5.56" fill="#7FE599"/>
<rect x="255.7" y="365.4" width="3.5" height="5.16" fill="#E6F4E0"/>
<rect x="262.6" y="365.4" width="9.4" height="6.11" fill="#7CB34F"/>
<rect x="264.15" y="365.4" width="6.3" height="5.56" fill="#7FE599"/>
<rect x="265.55" y="365.4" width="3.5" height="5.16" fill="#E6F4E0"/>
<rect x="272.45" y="365.4" width="9.4" height="5.93" fill="#7CB34F"/>
<rect x="274" y="365.4" width="6.3" height="5.38" fill="#7FE599"/>
<rect x="275.4" y="365.4" width="3.5" height="5.01" fill="#E6F4E0"/>
<rect x="282.3" y="365.4" width="9.4" height="5.75" fill="#7CB34F"/>
<rect x="283.85" y="365.4" width="6.3" height="5.23" fill="#7FE599"/>
<rect x="285.25" y="365.4" width="3.5" height="4.87" fill="#E6F4E0"/>
<rect x="292.15" y="365.4" width="9.4" height="3.84" fill="#7CB34F"/>
<rect x="293.7" y="365.4" width="6.3" height="3.48" fill="#7FE599"/>
<rect x="295.1" y="365.4" width="3.5" height="3.22" fill="#E6F4E0"/>
<rect x="302" y="365.4" width="9.4" height="3.29" fill="#7CB34F"/>
<rect x="303.55" y="365.4" width="6.3" height="3" fill="#7FE599"/>
<rect x="304.95" y="365.4" width="3.5" height="2.78" fill="#E6F4E0"/>
<rect x="311.85" y="365.4" width="9.4" height="2.49" fill="#7CB34F"/>
<rect x="313.4" y="365.4" width="6.3" height="2.27" fill="#7FE599"/>
<rect x="314.8" y="365.4" width="3.5" height="2.09" fill="#E6F4E0"/>
<rect x="321.7" y="365.4" width="9.4" height="1.54" fill="#7CB34F"/>
<rect x="323.25" y="365.4" width="6.3" height="1.39" fill="#7FE599"/>
<rect x="324.65" y="365.4" width="3.5" height="1.28" fill="#E6F4E0"/>
<rect x="331.55" y="365.4" width="9.4" height="0.73" fill="#7CB34F"/>
<rect x="333.1" y="365.4" width="6.3" height="0.66" fill="#7FE599"/>
<rect x="334.5" y="365.4" width="3.5" height="0.59" fill="#E6F4E0"/>
<rect x="341.4" y="365.4" width="9.4" height="0.18" fill="#7CB34F"/>
<rect x="342.95" y="365.4" width="6.3" height="0.15" fill="#7FE599"/>
<rect x="344.35" y="365.4" width="3.5" height="0.11" fill="#E6F4E0"/>
<line x1="45.7" y1="365.4" x2="350.8" y2="365.4" stroke="#000" stroke-width="1.45"/>
<rect x="45.7" y="292.4" width="305.1" height="105.4" fill="none" stroke="#000" stroke-width="1.45"/>
<line x1="40.3" y1="292.2" x2="45.7" y2="292.2" stroke="#000" stroke-width="1.45"/>
<text transform="translate(36.6,294.58) scale(1.0,1)" font-size="6.3" text-anchor="end">20.0</text>
<line x1="40.3" y1="301.35" x2="45.7" y2="301.35" stroke="#000" stroke-width="1.45"/>
<text transform="translate(36.6,303.73) scale(1.0,1)" font-size="6.3" text-anchor="end">17.5</text>
<line x1="40.3" y1="310.5" x2="45.7" y2="310.5" stroke="#000" stroke-width="1.45"/>
<text transform="translate(36.6,312.88) scale(1.0,1)" font-size="6.3" text-anchor="end">15.0</text>
<line x1="40.3" y1="319.65" x2="45.7" y2="319.65" stroke="#000" stroke-width="1.45"/>
<text transform="translate(36.6,322.03) scale(1.0,1)" font-size="6.3" text-anchor="end">12.5</text>
<line x1="40.3" y1="328.8" x2="45.7" y2="328.8" stroke="#000" stroke-width="1.45"/>
<text transform="translate(36.6,331.18) scale(1.0,1)" font-size="6.3" text-anchor="end">10.0</text>
<line x1="40.3" y1="337.95" x2="45.7" y2="337.95" stroke="#000" stroke-width="1.45"/>
<text transform="translate(36.6,340.33) scale(1.0,1)" font-size="6.3" text-anchor="end">7.5</text>
<line x1="40.3" y1="347.1" x2="45.7" y2="347.1" stroke="#000" stroke-width="1.45"/>
<text transform="translate(36.6,349.48) scale(1.0,1)" font-size="6.3" text-anchor="end">5.0</text>
<line x1="40.3" y1="356.25" x2="45.7" y2="356.25" stroke="#000" stroke-width="1.45"/>
<text transform="translate(36.6,358.63) scale(1.0,1)" font-size="6.3" text-anchor="end">2.5</text>
<line x1="40.3" y1="365.4" x2="45.7" y2="365.4" stroke="#000" stroke-width="1.45"/>
<text transform="translate(36.6,367.78) scale(1.0,1)" font-size="6.3" text-anchor="end">0.0</text>
<line x1="40.3" y1="374.55" x2="45.7" y2="374.55" stroke="#000" stroke-width="1.45"/>
<text transform="translate(36.6,376.93) scale(1.0,1)" font-size="6.3" text-anchor="end">-2.5</text>
<line x1="40.3" y1="383.7" x2="45.7" y2="383.7" stroke="#000" stroke-width="1.45"/>
<text transform="translate(36.6,386.08) scale(1.0,1)" font-size="6.3" text-anchor="end">-5.0</text>
<line x1="40.3" y1="392.85" x2="45.7" y2="392.85" stroke="#000" stroke-width="1.45"/>
<text transform="translate(36.6,395.23) scale(1.0,1)" font-size="6.3" text-anchor="end">-7.5</text>
<line x1="42.9" y1="296.77" x2="45.7" y2="296.77" stroke="#000" stroke-width="1.45"/>
<line x1="42.9" y1="305.92" x2="45.7" y2="305.92" stroke="#000" stroke-width="1.45"/>
<line x1="42.9" y1="315.07" x2="45.7" y2="315.07" stroke="#000" stroke-width="1.45"/>
<line x1="42.9" y1="324.22" x2="45.7" y2="324.22" stroke="#000" stroke-width="1.45"/>
<line x1="42.9" y1="333.38" x2="45.7" y2="333.38" stroke="#000" stroke-width="1.45"/>
<line x1="42.9" y1="342.52" x2="45.7" y2="342.52" stroke="#000" stroke-width="1.45"/>
<line x1="42.9" y1="351.67" x2="45.7" y2="351.67" stroke="#000" stroke-width="1.45"/>
<line x1="42.9" y1="360.82" x2="45.7" y2="360.82" stroke="#000" stroke-width="1.45"/>
<line x1="42.9" y1="369.97" x2="45.7" y2="369.97" stroke="#000" stroke-width="1.45"/>
<line x1="42.9" y1="379.12" x2="45.7" y2="379.12" stroke="#000" stroke-width="1.45"/>
<line x1="42.9" y1="388.27" x2="45.7" y2="388.27" stroke="#000" stroke-width="1.45"/>
<line x1="42.9" y1="397.42" x2="45.7" y2="397.42" stroke="#000" stroke-width="1.45"/>
<line x1="50.6" y1="397.8" x2="50.6" y2="400.4" stroke="#000" stroke-width="1.45"/>
<text transform="translate(54.8,404.4) scale(1.09,1) rotate(-45)" font-size="5.2" text-anchor="end" class="xl">ZJ</text>
<line x1="60.45" y1="397.8" x2="60.45" y2="400.4" stroke="#000" stroke-width="1.45"/>
<text transform="translate(64.65,404.4) scale(1.09,1) rotate(-45)" font-size="5.2" text-anchor="end" class="xl">JX</text>
<line x1="70.3" y1="397.8" x2="70.3" y2="400.4" stroke="#000" stroke-width="1.45"/>
<text transform="translate(74.5,404.4) scale(1.09,1) rotate(-45)" font-size="5.2" text-anchor="end" class="xl">AH</text>
<line x1="80.15" y1="397.8" x2="80.15" y2="400.4" stroke="#000" stroke-width="1.45"/>
<text transform="translate(84.35,404.4) scale(1.09,1) rotate(-45)" font-size="5.2" text-anchor="end" class="xl">HuN</text>
<line x1="90" y1="397.8" x2="90" y2="400.4" stroke="#000" stroke-width="1.45"/>
<text transform="translate(94.2,404.4) scale(1.09,1) rotate(-45)" font-size="5.2" text-anchor="end" class="xl">JS</text>
<line x1="99.85" y1="397.8" x2="99.85" y2="400.4" stroke="#000" stroke-width="1.45"/>
<text transform="translate(104.05,404.4) scale(1.09,1) rotate(-45)" font-size="5.2" text-anchor="end" class="xl">HuB</text>
<line x1="109.7" y1="397.8" x2="109.7" y2="400.4" stroke="#000" stroke-width="1.45"/>
<text transform="translate(113.9,404.4) scale(1.09,1) rotate(-45)" font-size="5.2" text-anchor="end" class="xl">SD</text>
<line x1="119.55" y1="397.8" x2="119.55" y2="400.4" stroke="#000" stroke-width="1.45"/>
<text transform="translate(123.75,404.4) scale(1.09,1) rotate(-45)" font-size="5.2" text-anchor="end" class="xl">GD</text>
<line x1="129.4" y1="397.8" x2="129.4" y2="400.4" stroke="#000" stroke-width="1.45"/>
<text transform="translate(133.6,404.4) scale(1.09,1) rotate(-45)" font-size="5.2" text-anchor="end" class="xl">HeN</text>
<line x1="139.25" y1="397.8" x2="139.25" y2="400.4" stroke="#000" stroke-width="1.45"/>
<text transform="translate(143.45,404.4) scale(1.09,1) rotate(-45)" font-size="5.2" text-anchor="end" class="xl">SC</text>
<line x1="149.1" y1="397.8" x2="149.1" y2="400.4" stroke="#000" stroke-width="1.45"/>
<text transform="translate(153.3,404.4) scale(1.09,1) rotate(-45)" font-size="5.2" text-anchor="end" class="xl">HB</text>
<line x1="158.95" y1="397.8" x2="158.95" y2="400.4" stroke="#000" stroke-width="1.45"/>
<text transform="translate(163.15,404.4) scale(1.09,1) rotate(-45)" font-size="5.2" text-anchor="end" class="xl">LN</text>
<line x1="168.8" y1="397.8" x2="168.8" y2="400.4" stroke="#000" stroke-width="1.45"/>
<text transform="translate(173,404.4) scale(1.09,1) rotate(-45)" font-size="5.2" text-anchor="end" class="xl">HLJ</text>
<line x1="178.65" y1="397.8" x2="178.65" y2="400.4" stroke="#000" stroke-width="1.45"/>
<text transform="translate(182.85,404.4) scale(1.09,1) rotate(-45)" font-size="5.2" text-anchor="end" class="xl">FJ</text>
<line x1="188.5" y1="397.8" x2="188.5" y2="400.4" stroke="#000" stroke-width="1.45"/>
<text transform="translate(192.7,404.4) scale(1.09,1) rotate(-45)" font-size="5.2" text-anchor="end" class="xl">GX</text>
<line x1="198.35" y1="397.8" x2="198.35" y2="400.4" stroke="#000" stroke-width="1.45"/>
<text transform="translate(202.55,404.4) scale(1.09,1) rotate(-45)" font-size="5.2" text-anchor="end" class="xl">SaX</text>
<line x1="208.2" y1="397.8" x2="208.2" y2="400.4" stroke="#000" stroke-width="1.45"/>
<text transform="translate(212.4,404.4) scale(1.09,1) rotate(-45)" font-size="5.2" text-anchor="end" class="xl">CQ</text>
<line x1="218.05" y1="397.8" x2="218.05" y2="400.4" stroke="#000" stroke-width="1.45"/>
<text transform="translate(222.25,404.4) scale(1.09,1) rotate(-45)" font-size="5.2" text-anchor="end" class="xl">SH</text>
<line x1="227.9" y1="397.8" x2="227.9" y2="400.4" stroke="#000" stroke-width="1.45"/>
<text transform="translate(232.1,404.4) scale(1.09,1) rotate(-45)" font-size="5.2" text-anchor="end" class="xl">SX</text>
<line x1="237.75" y1="397.8" x2="237.75" y2="400.4" stroke="#000" stroke-width="1.45"/>
<text transform="translate(241.95,404.4) scale(1.09,1) rotate(-45)" font-size="5.2" text-anchor="end" class="xl">YN</text>
<line x1="247.6" y1="397.8" x2="247.6" y2="400.4" stroke="#000" stroke-width="1.45"/>
<text transform="translate(251.8,404.4) scale(1.09,1) rotate(-45)" font-size="5.2" text-anchor="end" class="xl">BJ</text>
<line x1="257.45" y1="397.8" x2="257.45" y2="400.4" stroke="#000" stroke-width="1.45"/>
<text transform="translate(261.65,404.4) scale(1.09,1) rotate(-45)" font-size="5.2" text-anchor="end" class="xl">GZ</text>
<line x1="267.3" y1="397.8" x2="267.3" y2="400.4" stroke="#000" stroke-width="1.45"/>
<text transform="translate(271.5,404.4) scale(1.09,1) rotate(-45)" font-size="5.2" text-anchor="end" class="xl">JL</text>
<line x1="277.15" y1="397.8" x2="277.15" y2="400.4" stroke="#000" stroke-width="1.45"/>
<text transform="translate(281.35,404.4) scale(1.09,1) rotate(-45)" font-size="5.2" text-anchor="end" class="xl">NM</text>
<line x1="287" y1="397.8" x2="287" y2="400.4" stroke="#000" stroke-width="1.45"/>
<text transform="translate(291.2,404.4) scale(1.09,1) rotate(-45)" font-size="5.2" text-anchor="end" class="xl">TJ</text>
<line x1="296.85" y1="397.8" x2="296.85" y2="400.4" stroke="#000" stroke-width="1.45"/>
<text transform="translate(301.05,404.4) scale(1.09,1) rotate(-45)" font-size="5.2" text-anchor="end" class="xl">GS</text>
<line x1="306.7" y1="397.8" x2="306.7" y2="400.4" stroke="#000" stroke-width="1.45"/>
<text transform="translate(310.9,404.4) scale(1.09,1) rotate(-45)" font-size="5.2" text-anchor="end" class="xl">XinJ</text>
<line x1="316.55" y1="397.8" x2="316.55" y2="400.4" stroke="#000" stroke-width="1.45"/>
<text transform="translate(320.75,404.4) scale(1.09,1) rotate(-45)" font-size="5.2" text-anchor="end" class="xl">HaiN</text>
<line x1="326.4" y1="397.8" x2="326.4" y2="400.4" stroke="#000" stroke-width="1.45"/>
<text transform="translate(330.6,404.4) scale(1.09,1) rotate(-45)" font-size="5.2" text-anchor="end" class="xl">NX</text>
<line x1="336.25" y1="397.8" x2="336.25" y2="400.4" stroke="#000" stroke-width="1.45"/>
<text transform="translate(340.45,404.4) scale(1.09,1) rotate(-45)" font-size="5.2" text-anchor="end" class="xl">QH</text>
<line x1="346.1" y1="397.8" x2="346.1" y2="400.4" stroke="#000" stroke-width="1.45"/>
<text transform="translate(350.3,404.4) scale(1.09,1) rotate(-45)" font-size="5.2" text-anchor="end" class="xl">XZ</text>
<text transform="translate(18.8,345.5) rotate(-90) scale(1,1.09)" font-size="6.53" text-anchor="middle">Compensating Variation (billion CNY )</text>
<text x="0.9" y="291.1" font-size="11.4">(e)</text>
<rect x="289.7" y="299.1" width="14.7" height="6.9" fill="#7CB34F" stroke="#6FA343" stroke-width="0.8"/>
<text transform="translate(305.8,304.66) scale(1.0,1)" font-size="6.4" class="xl">L-F3</text>
<rect x="289.7" y="307.4" width="14.7" height="6.9" fill="#7FE599"/>
<text transform="translate(305.8,312.96) scale(1.0,1)" font-size="6.4" class="xl">L-F3-TL</text>
<rect x="289.7" y="315.7" width="14.7" height="6.9" fill="#E6F4E0"/>
<text transform="translate(305.8,321.26) scale(1.0,1)" font-size="6.4" class="xl">L-F3-TU</text>
<rect x="416.6" y="56.28" width="6.8" height="57.8" fill="#fff" stroke="#3B87A8" stroke-width="1.1"/>
<rect x="425.16" y="52.29" width="6.8" height="23.71" fill="#fff" stroke="#3B87A8" stroke-width="1.1"/>
<rect x="433.72" y="29.72" width="6.8" height="18.58" fill="#fff" stroke="#3B87A8" stroke-width="1.1"/>
<rect x="442.28" y="30.97" width="6.8" height="10.32" fill="#fff" stroke="#3B87A8" stroke-width="1.1"/>
<rect x="450.84" y="25.5" width="6.8" height="2.28" fill="#A9C9D8" stroke="#3B87A8" stroke-width="1.1"/>
<rect x="459.4" y="25.5" width="6.8" height="0.46" fill="#A9C9D8" stroke="#3B87A8" stroke-width="1.1"/>
<rect x="467.96" y="25.5" width="6.8" height="0" fill="#A9C9D8" stroke="#3B87A8" stroke-width="1.1"/>
<rect x="476.52" y="25.5" width="6.8" height="0" fill="#A9C9D8" stroke="#3B87A8" stroke-width="1.1"/>
<rect x="485.08" y="24.75" width="6.8" height="0.75" fill="#A9C9D8" stroke="#3B87A8" stroke-width="1.1"/>
<rect x="493.64" y="24.71" width="6.8" height="0.79" fill="#A9C9D8" stroke="#3B87A8" stroke-width="1.1"/>
<rect x="502.2" y="24.66" width="6.8" height="0.84" fill="#A9C9D8" stroke="#3B87A8" stroke-width="1.1"/>
<rect x="510.76" y="24.62" width="6.8" height="0.88" fill="#A9C9D8" stroke="#3B87A8" stroke-width="1.1"/>
<rect x="519.32" y="24.58" width="6.8" height="0.92" fill="#A9C9D8" stroke="#3B87A8" stroke-width="1.1"/>
<rect x="527.88" y="24.54" width="6.8" height="0.96" fill="#A9C9D8" stroke="#3B87A8" stroke-width="1.1"/>
<rect x="536.44" y="24.49" width="6.8" height="1.01" fill="#A9C9D8" stroke="#3B87A8" stroke-width="1.1"/>
<rect x="545" y="24.45" width="6.8" height="1.05" fill="#A9C9D8" stroke="#3B87A8" stroke-width="1.1"/>
<rect x="553.56" y="24.41" width="6.8" height="1.09" fill="#A9C9D8" stroke="#3B87A8" stroke-width="1.1"/>
<rect x="562.12" y="24.36" width="6.8" height="1.14" fill="#A9C9D8" stroke="#3B87A8" stroke-width="1.1"/>
<rect x="570.68" y="24.32" width="6.8" height="1.18" fill="#A9C9D8" stroke="#3B87A8" stroke-width="1.1"/>
<rect x="579.24" y="24.28" width="6.8" height="1.22" fill="#A9C9D8" stroke="#3B87A8" stroke-width="1.1"/>
<rect x="587.8" y="24.24" width="6.8" height="1.26" fill="#A9C9D8" stroke="#3B87A8" stroke-width="1.1"/>
<rect x="596.36" y="24.19" width="6.8" height="1.31" fill="#A9C9D8" stroke="#3B87A8" stroke-width="1.1"/>
<rect x="604.92" y="24.15" width="6.8" height="1.35" fill="#A9C9D8" stroke="#3B87A8" stroke-width="1.1"/>
<rect x="613.48" y="23.11" width="6.8" height="1.48" fill="#A9C9D8" stroke="#3B87A8" stroke-width="1.1"/>
<rect x="622.04" y="22.65" width="6.8" height="1.82" fill="#A9C9D8" stroke="#3B87A8" stroke-width="1.1"/>
<rect x="630.6" y="21.91" width="6.8" height="2.34" fill="#A9C9D8" stroke="#3B87A8" stroke-width="1.1"/>
<rect x="639.16" y="21.23" width="6.8" height="2.68" fill="#A9C9D8" stroke="#3B87A8" stroke-width="1.1"/>
<rect x="647.72" y="20.71" width="6.8" height="2.91" fill="#fff" stroke="#3B87A8" stroke-width="1.1"/>
<rect x="656.28" y="20.37" width="6.8" height="3.13" fill="#fff" stroke="#3B87A8" stroke-width="1.1"/>
<rect x="664.84" y="20.94" width="6.8" height="2.68" fill="#A9C9D8" stroke="#3B87A8" stroke-width="1.1"/>
<rect x="673.4" y="16.78" width="6.8" height="5.13" fill="#fff" stroke="#3B87A8" stroke-width="1.1"/>
<line x1="414.5" y1="25.5" x2="683.5" y2="25.5" stroke="#000" stroke-width="1.5"/>
<rect x="414.5" y="14.1" width="269" height="102.6" fill="none" stroke="#000" stroke-width="1.5"/>
<line x1="410.2" y1="14.1" x2="414.5" y2="14.1" stroke="#000" stroke-width="1.5"/>
<text transform="translate(407.1,16.5) scale(1.1,1)" font-size="6.5" text-anchor="end">0.2</text>
<line x1="410.2" y1="25.5" x2="414.5" y2="25.5" stroke="#000" stroke-width="1.5"/>
<text transform="translate(407.1,27.89) scale(1.1,1)" font-size="6.5" text-anchor="end">0.0</text>
<line x1="410.2" y1="36.9" x2="414.5" y2="36.9" stroke="#000" stroke-width="1.5"/>
<text transform="translate(407.1,39.3) scale(1.1,1)" font-size="6.5" text-anchor="end">-0.2</text>
<line x1="410.2" y1="48.3" x2="414.5" y2="48.3" stroke="#000" stroke-width="1.5"/>
<text transform="translate(407.1,50.7) scale(1.1,1)" font-size="6.5" text-anchor="end">-0.4</text>
<line x1="410.2" y1="59.7" x2="414.5" y2="59.7" stroke="#000" stroke-width="1.5"/>
<text transform="translate(407.1,62.09) scale(1.1,1)" font-size="6.5" text-anchor="end">-0.6</text>
<line x1="410.2" y1="71.1" x2="414.5" y2="71.1" stroke="#000" stroke-width="1.5"/>
<text transform="translate(407.1,73.49) scale(1.1,1)" font-size="6.5" text-anchor="end">-0.8</text>
<line x1="410.2" y1="82.5" x2="414.5" y2="82.5" stroke="#000" stroke-width="1.5"/>
<text transform="translate(407.1,84.89) scale(1.1,1)" font-size="6.5" text-anchor="end">-1.0</text>
<line x1="410.2" y1="93.9" x2="414.5" y2="93.9" stroke="#000" stroke-width="1.5"/>
<text transform="translate(407.1,96.29) scale(1.1,1)" font-size="6.5" text-anchor="end">-1.2</text>
<line x1="410.2" y1="105.3" x2="414.5" y2="105.3" stroke="#000" stroke-width="1.5"/>
<text transform="translate(407.1,107.69) scale(1.1,1)" font-size="6.5" text-anchor="end">-1.4</text>
<line x1="410.2" y1="116.7" x2="414.5" y2="116.7" stroke="#000" stroke-width="1.5"/>
<text transform="translate(407.1,119.09) scale(1.1,1)" font-size="6.5" text-anchor="end">-1.6</text>
<line x1="412" y1="19.8" x2="414.5" y2="19.8" stroke="#000" stroke-width="1.5"/>
<line x1="412" y1="31.2" x2="414.5" y2="31.2" stroke="#000" stroke-width="1.5"/>
<line x1="412" y1="42.6" x2="414.5" y2="42.6" stroke="#000" stroke-width="1.5"/>
<line x1="412" y1="54" x2="414.5" y2="54" stroke="#000" stroke-width="1.5"/>
<line x1="412" y1="65.4" x2="414.5" y2="65.4" stroke="#000" stroke-width="1.5"/>
<line x1="412" y1="76.8" x2="414.5" y2="76.8" stroke="#000" stroke-width="1.5"/>
<line x1="412" y1="88.2" x2="414.5" y2="88.2" stroke="#000" stroke-width="1.5"/>
<line x1="412" y1="99.6" x2="414.5" y2="99.6" stroke="#000" stroke-width="1.5"/>
<line x1="412" y1="111" x2="414.5" y2="111" stroke="#000" stroke-width="1.5"/>
<line x1="420" y1="116.7" x2="420" y2="120.7" stroke="#000" stroke-width="1.5"/>
<text transform="translate(424,123.2) scale(1.08,1) rotate(-45)" font-size="5.05" text-anchor="end" class="xl">HuB</text>
<line x1="428.56" y1="116.7" x2="428.56" y2="120.7" stroke="#000" stroke-width="1.5"/>
<text transform="translate(432.56,123.2) scale(1.08,1) rotate(-45)" font-size="5.05" text-anchor="end" class="xl">HuN</text>
<line x1="437.12" y1="116.7" x2="437.12" y2="120.7" stroke="#000" stroke-width="1.5"/>
<text transform="translate(441.12,123.2) scale(1.08,1) rotate(-45)" font-size="5.05" text-anchor="end" class="xl">AH</text>
<line x1="445.68" y1="116.7" x2="445.68" y2="120.7" stroke="#000" stroke-width="1.5"/>
<text transform="translate(449.68,123.2) scale(1.08,1) rotate(-45)" font-size="5.05" text-anchor="end" class="xl">JX</text>
<line x1="454.24" y1="116.7" x2="454.24" y2="120.7" stroke="#000" stroke-width="1.5"/>
<text transform="translate(458.24,123.2) scale(1.08,1) rotate(-45)" font-size="5.05" text-anchor="end" class="xl">JS</text>
<line x1="462.8" y1="116.7" x2="462.8" y2="120.7" stroke="#000" stroke-width="1.5"/>
<text transform="translate(466.8,123.2) scale(1.08,1) rotate(-45)" font-size="5.05" text-anchor="end" class="xl">ZJ</text>
<line x1="471.36" y1="116.7" x2="471.36" y2="120.7" stroke="#000" stroke-width="1.5"/>
<text transform="translate(475.36,123.2) scale(1.08,1) rotate(-45)" font-size="5.05" text-anchor="end" class="xl">XZ</text>
<line x1="479.92" y1="116.7" x2="479.92" y2="120.7" stroke="#000" stroke-width="1.5"/>
<text transform="translate(483.92,123.2) scale(1.08,1) rotate(-45)" font-size="5.05" text-anchor="end" class="xl">QH</text>
<line x1="488.48" y1="116.7" x2="488.48" y2="120.7" stroke="#000" stroke-width="1.5"/>
<text transform="translate(492.48,123.2) scale(1.08,1) rotate(-45)" font-size="5.05" text-anchor="end" class="xl">NX</text>
<line x1="497.04" y1="116.7" x2="497.04" y2="120.7" stroke="#000" stroke-width="1.5"/>
<text transform="translate(501.04,123.2) scale(1.08,1) rotate(-45)" font-size="5.05" text-anchor="end" class="xl">HaiN</text>
<line x1="505.6" y1="116.7" x2="505.6" y2="120.7" stroke="#000" stroke-width="1.5"/>
<text transform="translate(509.6,123.2) scale(1.08,1) rotate(-45)" font-size="5.05" text-anchor="end" class="xl">XinJ</text>
<line x1="514.16" y1="116.7" x2="514.16" y2="120.7" stroke="#000" stroke-width="1.5"/>
<text transform="translate(518.16,123.2) scale(1.08,1) rotate(-45)" font-size="5.05" text-anchor="end" class="xl">GS</text>
<line x1="522.72" y1="116.7" x2="522.72" y2="120.7" stroke="#000" stroke-width="1.5"/>
<text transform="translate(526.72,123.2) scale(1.08,1) rotate(-45)" font-size="5.05" text-anchor="end" class="xl">TJ</text>
<line x1="531.28" y1="116.7" x2="531.28" y2="120.7" stroke="#000" stroke-width="1.5"/>
<text transform="translate(535.28,123.2) scale(1.08,1) rotate(-45)" font-size="5.05" text-anchor="end" class="xl">NM</text>
<line x1="539.84" y1="116.7" x2="539.84" y2="120.7" stroke="#000" stroke-width="1.5"/>
<text transform="translate(543.84,123.2) scale(1.08,1) rotate(-45)" font-size="5.05" text-anchor="end" class="xl">JL</text>
<line x1="548.4" y1="116.7" x2="548.4" y2="120.7" stroke="#000" stroke-width="1.5"/>
<text transform="translate(552.4,123.2) scale(1.08,1) rotate(-45)" font-size="5.05" text-anchor="end" class="xl">SX</text>
<line x1="556.96" y1="116.7" x2="556.96" y2="120.7" stroke="#000" stroke-width="1.5"/>
<text transform="translate(560.96,123.2) scale(1.08,1) rotate(-45)" font-size="5.05" text-anchor="end" class="xl">GZ</text>
<line x1="565.52" y1="116.7" x2="565.52" y2="120.7" stroke="#000" stroke-width="1.5"/>
<text transform="translate(569.52,123.2) scale(1.08,1) rotate(-45)" font-size="5.05" text-anchor="end" class="xl">SH</text>
<line x1="574.08" y1="116.7" x2="574.08" y2="120.7" stroke="#000" stroke-width="1.5"/>
<text transform="translate(578.08,123.2) scale(1.08,1) rotate(-45)" font-size="5.05" text-anchor="end" class="xl">YN</text>
<line x1="582.64" y1="116.7" x2="582.64" y2="120.7" stroke="#000" stroke-width="1.5"/>
<text transform="translate(586.64,123.2) scale(1.08,1) rotate(-45)" font-size="5.05" text-anchor="end" class="xl">CQ</text>
<line x1="591.2" y1="116.7" x2="591.2" y2="120.7" stroke="#000" stroke-width="1.5"/>
<text transform="translate(595.2,123.2) scale(1.08,1) rotate(-45)" font-size="5.05" text-anchor="end" class="xl">BJ</text>
<line x1="599.76" y1="116.7" x2="599.76" y2="120.7" stroke="#000" stroke-width="1.5"/>
<text transform="translate(603.76,123.2) scale(1.08,1) rotate(-45)" font-size="5.05" text-anchor="end" class="xl">SaX</text>
<line x1="608.32" y1="116.7" x2="608.32" y2="120.7" stroke="#000" stroke-width="1.5"/>
<text transform="translate(612.32,123.2) scale(1.08,1) rotate(-45)" font-size="5.05" text-anchor="end" class="xl">GX</text>
<line x1="616.88" y1="116.7" x2="616.88" y2="120.7" stroke="#000" stroke-width="1.5"/>
<text transform="translate(620.88,123.2) scale(1.08,1) rotate(-45)" font-size="5.05" text-anchor="end" class="xl">FJ</text>
<line x1="625.44" y1="116.7" x2="625.44" y2="120.7" stroke="#000" stroke-width="1.5"/>
<text transform="translate(629.44,123.2) scale(1.08,1) rotate(-45)" font-size="5.05" text-anchor="end" class="xl">HLJ</text>
<line x1="634" y1="116.7" x2="634" y2="120.7" stroke="#000" stroke-width="1.5"/>
<text transform="translate(638,123.2) scale(1.08,1) rotate(-45)" font-size="5.05" text-anchor="end" class="xl">LN</text>
<line x1="642.56" y1="116.7" x2="642.56" y2="120.7" stroke="#000" stroke-width="1.5"/>
<text transform="translate(646.56,123.2) scale(1.08,1) rotate(-45)" font-size="5.05" text-anchor="end" class="xl">HB</text>
<line x1="651.12" y1="116.7" x2="651.12" y2="120.7" stroke="#000" stroke-width="1.5"/>
<text transform="translate(655.12,123.2) scale(1.08,1) rotate(-45)" font-size="5.05" text-anchor="end" class="xl">SC</text>
<line x1="659.68" y1="116.7" x2="659.68" y2="120.7" stroke="#000" stroke-width="1.5"/>
<text transform="translate(663.68,123.2) scale(1.08,1) rotate(-45)" font-size="5.05" text-anchor="end" class="xl">GD</text>
<line x1="668.24" y1="116.7" x2="668.24" y2="120.7" stroke="#000" stroke-width="1.5"/>
<text transform="translate(672.24,123.2) scale(1.08,1) rotate(-45)" font-size="5.05" text-anchor="end" class="xl">HeN</text>
<line x1="676.8" y1="116.7" x2="676.8" y2="120.7" stroke="#000" stroke-width="1.5"/>
<text transform="translate(680.8,123.2) scale(1.08,1) rotate(-45)" font-size="5.05" text-anchor="end" class="xl">SD</text>
<text transform="translate(380.5,63.6) rotate(-90) scale(1,1.05)" font-size="6.6" text-anchor="middle">TGP's FRFs on Compensating</text>
<text transform="translate(389.6,63.6) rotate(-90) scale(1,1.05)" font-size="6.80" text-anchor="middle">Variation (billion CNY)</text>
<text x="369.3" y="11.8" font-size="11.5">(b)</text>
<rect x="596.6" y="99.2" width="16.2" height="6.8" fill="#fff" stroke="#3B87A8" stroke-width="1.1"/>
<text transform="translate(614.8,104.9) scale(1.03,1)" font-size="7.0">Under F1 scenario</text>
<rect x="416.8" y="227.91" width="6.8" height="19" fill="#fff" stroke="#B5293B" stroke-width="1.1"/>
<rect x="425.36" y="187" width="6.8" height="17.22" fill="#fff" stroke="#B5293B" stroke-width="1.1"/>
<rect x="433.92" y="174.46" width="6.8" height="7.02" fill="#fff" stroke="#B5293B" stroke-width="1.1"/>
<rect x="442.48" y="170.53" width="6.8" height="5.9" fill="#fff" stroke="#B5293B" stroke-width="1.1"/>
<rect x="451.04" y="162.2" width="6.8" height="0.56" fill="#E0A3AB" stroke="#B5293B" stroke-width="1.1"/>
<rect x="459.6" y="160.8" width="6.8" height="1.4" fill="#E0A3AB" stroke="#B5293B" stroke-width="1.1"/>
<rect x="468.16" y="162.2" width="6.8" height="0" fill="#E0A3AB" stroke="#B5293B" stroke-width="1.1"/>
<rect x="476.72" y="162.2" width="6.8" height="0" fill="#E0A3AB" stroke="#B5293B" stroke-width="1.1"/>
<rect x="485.28" y="161.45" width="6.8" height="0.75" fill="#E0A3AB" stroke="#B5293B" stroke-width="1.1"/>
<rect x="493.84" y="161.41" width="6.8" height="0.79" fill="#E0A3AB" stroke="#B5293B" stroke-width="1.1"/>
<rect x="502.4" y="161.36" width="6.8" height="0.84" fill="#E0A3AB" stroke="#B5293B" stroke-width="1.1"/>
<rect x="510.96" y="161.32" width="6.8" height="0.88" fill="#E0A3AB" stroke="#B5293B" stroke-width="1.1"/>
<rect x="519.52" y="161.28" width="6.8" height="0.92" fill="#E0A3AB" stroke="#B5293B" stroke-width="1.1"/>
<rect x="528.08" y="161.24" width="6.8" height="0.96" fill="#E0A3AB" stroke="#B5293B" stroke-width="1.1"/>
<rect x="536.64" y="161.19" width="6.8" height="1.01" fill="#E0A3AB" stroke="#B5293B" stroke-width="1.1"/>
<rect x="545.2" y="161.15" width="6.8" height="1.05" fill="#E0A3AB" stroke="#B5293B" stroke-width="1.1"/>
<rect x="553.76" y="161.11" width="6.8" height="1.09" fill="#E0A3AB" stroke="#B5293B" stroke-width="1.1"/>
<rect x="562.32" y="161.06" width="6.8" height="1.14" fill="#E0A3AB" stroke="#B5293B" stroke-width="1.1"/>
<rect x="570.88" y="161.02" width="6.8" height="1.18" fill="#E0A3AB" stroke="#B5293B" stroke-width="1.1"/>
<rect x="579.44" y="160.98" width="6.8" height="1.22" fill="#E0A3AB" stroke="#B5293B" stroke-width="1.1"/>
<rect x="588" y="160.94" width="6.8" height="1.26" fill="#E0A3AB" stroke="#B5293B" stroke-width="1.1"/>
<rect x="596.56" y="160.89" width="6.8" height="1.31" fill="#E0A3AB" stroke="#B5293B" stroke-width="1.1"/>
<rect x="605.12" y="160.85" width="6.8" height="1.35" fill="#E0A3AB" stroke="#B5293B" stroke-width="1.1"/>
<rect x="613.68" y="160.23" width="6.8" height="1.31" fill="#E0A3AB" stroke="#B5293B" stroke-width="1.1"/>
<rect x="622.24" y="159.86" width="6.8" height="1.59" fill="#E0A3AB" stroke="#B5293B" stroke-width="1.1"/>
<rect x="630.8" y="159.02" width="6.8" height="2.25" fill="#E0A3AB" stroke="#B5293B" stroke-width="1.1"/>
<rect x="639.36" y="157.99" width="6.8" height="2.43" fill="#E0A3AB" stroke="#B5293B" stroke-width="1.1"/>
<rect x="647.92" y="157.52" width="6.8" height="2.43" fill="#E0A3AB" stroke="#B5293B" stroke-width="1.1"/>
<rect x="656.48" y="157.24" width="6.8" height="2.43" fill="#E0A3AB" stroke="#B5293B" stroke-width="1.1"/>
<rect x="665.04" y="157.24" width="6.8" height="2.43" fill="#E0A3AB" stroke="#B5293B" stroke-width="1.1"/>
<rect x="673.6" y="154.15" width="6.8" height="3.37" fill="#fff" stroke="#B5293B" stroke-width="1.1"/>
<line x1="414.5" y1="162.2" x2="683.5" y2="162.2" stroke="#000" stroke-width="1.5"/>
<rect x="414.5" y="152.8" width="269" height="102.5" fill="none" stroke="#000" stroke-width="1.5"/>
<line x1="410.2" y1="162.2" x2="414.5" y2="162.2" stroke="#000" stroke-width="1.5"/>
<text transform="translate(407.1,164.59) scale(1.1,1)" font-size="6.5" text-anchor="end">0</text>
<line x1="410.2" y1="180.92" x2="414.5" y2="180.92" stroke="#000" stroke-width="1.5"/>
<text transform="translate(407.1,183.31) scale(1.1,1)" font-size="6.5" text-anchor="end">-2</text>
<line x1="410.2" y1="199.64" x2="414.5" y2="199.64" stroke="#000" stroke-width="1.5"/>
<text transform="translate(407.1,202.03) scale(1.1,1)" font-size="6.5" text-anchor="end">-4</text>
<line x1="410.2" y1="218.36" x2="414.5" y2="218.36" stroke="#000" stroke-width="1.5"/>
<text transform="translate(407.1,220.75) scale(1.1,1)" font-size="6.5" text-anchor="end">-6</text>
<line x1="410.2" y1="237.08" x2="414.5" y2="237.08" stroke="#000" stroke-width="1.5"/>
<text transform="translate(407.1,239.47) scale(1.1,1)" font-size="6.5" text-anchor="end">-8</text>
<line x1="410.2" y1="255.8" x2="414.5" y2="255.8" stroke="#000" stroke-width="1.5"/>
<text transform="translate(407.1,258.19) scale(1.1,1)" font-size="6.5" text-anchor="end">-10</text>
<line x1="412" y1="152.84" x2="414.5" y2="152.84" stroke="#000" stroke-width="1.5"/>
<line x1="412" y1="171.56" x2="414.5" y2="171.56" stroke="#000" stroke-width="1.5"/>
<line x1="412" y1="190.28" x2="414.5" y2="190.28" stroke="#000" stroke-width="1.5"/>
<line x1="412" y1="209" x2="414.5" y2="209" stroke="#000" stroke-width="1.5"/>
<line x1="412" y1="227.72" x2="414.5" y2="227.72" stroke="#000" stroke-width="1.5"/>
<line x1="412" y1="246.44" x2="414.5" y2="246.44" stroke="#000" stroke-width="1.5"/>
<line x1="420.2" y1="255.3" x2="420.2" y2="259.3" stroke="#000" stroke-width="1.5"/>
<text transform="translate(424.2,261.8) scale(1.08,1) rotate(-45)" font-size="5.05" text-anchor="end" class="xl">HuB</text>
<line x1="428.76" y1="255.3" x2="428.76" y2="259.3" stroke="#000" stroke-width="1.5"/>
<text transform="translate(432.76,261.8) scale(1.08,1) rotate(-45)" font-size="5.05" text-anchor="end" class="xl">HuN</text>
<line x1="437.32" y1="255.3" x2="437.32" y2="259.3" stroke="#000" stroke-width="1.5"/>
<text transform="translate(441.32,261.8) scale(1.08,1) rotate(-45)" font-size="5.05" text-anchor="end" class="xl">AH</text>
<line x1="445.88" y1="255.3" x2="445.88" y2="259.3" stroke="#000" stroke-width="1.5"/>
<text transform="translate(449.88,261.8) scale(1.08,1) rotate(-45)" font-size="5.05" text-anchor="end" class="xl">JX</text>
<line x1="454.44" y1="255.3" x2="454.44" y2="259.3" stroke="#000" stroke-width="1.5"/>
<text transform="translate(458.44,261.8) scale(1.08,1) rotate(-45)" font-size="5.05" text-anchor="end" class="xl">ZJ</text>
<line x1="463" y1="255.3" x2="463" y2="259.3" stroke="#000" stroke-width="1.5"/>
<text transform="translate(467,261.8) scale(1.08,1) rotate(-45)" font-size="5.05" text-anchor="end" class="xl">JS</text>
<line x1="471.56" y1="255.3" x2="471.56" y2="259.3" stroke="#000" stroke-width="1.5"/>
<text transform="translate(475.56,261.8) scale(1.08,1) rotate(-45)" font-size="5.05" text-anchor="end" class="xl">XZ</text>
<line x1="480.12" y1="255.3" x2="480.12" y2="259.3" stroke="#000" stroke-width="1.5"/>
<text transform="translate(484.12,261.8) scale(1.08,1) rotate(-45)" font-size="5.05" text-anchor="end" class="xl">QH</text>
<line x1="488.68" y1="255.3" x2="488.68" y2="259.3" stroke="#000" stroke-width="1.5"/>
<text transform="translate(492.68,261.8) scale(1.08,1) rotate(-45)" font-size="5.05" text-anchor="end" class="xl">NX</text>
<line x1="497.24" y1="255.3" x2="497.24" y2="259.3" stroke="#000" stroke-width="1.5"/>
<text transform="translate(501.24,261.8) scale(1.08,1) rotate(-45)" font-size="5.05" text-anchor="end" class="xl">HaiN</text>
<line x1="505.8" y1="255.3" x2="505.8" y2="259.3" stroke="#000" stroke-width="1.5"/>
<text transform="translate(509.8,261.8) scale(1.08,1) rotate(-45)" font-size="5.05" text-anchor="end" class="xl">XinJ</text>
<line x1="514.36" y1="255.3" x2="514.36" y2="259.3" stroke="#000" stroke-width="1.5"/>
<text transform="translate(518.36,261.8) scale(1.08,1) rotate(-45)" font-size="5.05" text-anchor="end" class="xl">GS</text>
<line x1="522.92" y1="255.3" x2="522.92" y2="259.3" stroke="#000" stroke-width="1.5"/>
<text transform="translate(526.92,261.8) scale(1.08,1) rotate(-45)" font-size="5.05" text-anchor="end" class="xl">TJ</text>
<line x1="531.48" y1="255.3" x2="531.48" y2="259.3" stroke="#000" stroke-width="1.5"/>
<text transform="translate(535.48,261.8) scale(1.08,1) rotate(-45)" font-size="5.05" text-anchor="end" class="xl">NM</text>
<line x1="540.04" y1="255.3" x2="540.04" y2="259.3" stroke="#000" stroke-width="1.5"/>
<text transform="translate(544.04,261.8) scale(1.08,1) rotate(-45)" font-size="5.05" text-anchor="end" class="xl">SX</text>
<line x1="548.6" y1="255.3" x2="548.6" y2="259.3" stroke="#000" stroke-width="1.5"/>
<text transform="translate(552.6,261.8) scale(1.08,1) rotate(-45)" font-size="5.05" text-anchor="end" class="xl">SH</text>
<line x1="557.16" y1="255.3" x2="557.16" y2="259.3" stroke="#000" stroke-width="1.5"/>
<text transform="translate(561.16,261.8) scale(1.08,1) rotate(-45)" font-size="5.05" text-anchor="end" class="xl">JL</text>
<line x1="565.72" y1="255.3" x2="565.72" y2="259.3" stroke="#000" stroke-width="1.5"/>
<text transform="translate(569.72,261.8) scale(1.08,1) rotate(-45)" font-size="5.05" text-anchor="end" class="xl">BJ</text>
<line x1="574.28" y1="255.3" x2="574.28" y2="259.3" stroke="#000" stroke-width="1.5"/>
<text transform="translate(578.28,261.8) scale(1.08,1) rotate(-45)" font-size="5.05" text-anchor="end" class="xl">GZ</text>
<line x1="582.84" y1="255.3" x2="582.84" y2="259.3" stroke="#000" stroke-width="1.5"/>
<text transform="translate(586.84,261.8) scale(1.08,1) rotate(-45)" font-size="5.05" text-anchor="end" class="xl">CQ</text>
<line x1="591.4" y1="255.3" x2="591.4" y2="259.3" stroke="#000" stroke-width="1.5"/>
<text transform="translate(595.4,261.8) scale(1.08,1) rotate(-45)" font-size="5.05" text-anchor="end" class="xl">YN</text>
<line x1="599.96" y1="255.3" x2="599.96" y2="259.3" stroke="#000" stroke-width="1.5"/>
<text transform="translate(603.96,261.8) scale(1.08,1) rotate(-45)" font-size="5.05" text-anchor="end" class="xl">SaX</text>
<line x1="608.52" y1="255.3" x2="608.52" y2="259.3" stroke="#000" stroke-width="1.5"/>
<text transform="translate(612.52,261.8) scale(1.08,1) rotate(-45)" font-size="5.05" text-anchor="end" class="xl">FJ</text>
<line x1="617.08" y1="255.3" x2="617.08" y2="259.3" stroke="#000" stroke-width="1.5"/>
<text transform="translate(621.08,261.8) scale(1.08,1) rotate(-45)" font-size="5.05" text-anchor="end" class="xl">GX</text>
<line x1="625.64" y1="255.3" x2="625.64" y2="259.3" stroke="#000" stroke-width="1.5"/>
<text transform="translate(629.64,261.8) scale(1.08,1) rotate(-45)" font-size="5.05" text-anchor="end" class="xl">HLJ</text>
<line x1="634.2" y1="255.3" x2="634.2" y2="259.3" stroke="#000" stroke-width="1.5"/>
<text transform="translate(638.2,261.8) scale(1.08,1) rotate(-45)" font-size="5.05" text-anchor="end" class="xl">LN</text>
<line x1="642.76" y1="255.3" x2="642.76" y2="259.3" stroke="#000" stroke-width="1.5"/>
<text transform="translate(646.76,261.8) scale(1.08,1) rotate(-45)" font-size="5.05" text-anchor="end" class="xl">HB</text>
<line x1="651.32" y1="255.3" x2="651.32" y2="259.3" stroke="#000" stroke-width="1.5"/>
<text transform="translate(655.32,261.8) scale(1.08,1) rotate(-45)" font-size="5.05" text-anchor="end" class="xl">HeN</text>
<line x1="659.88" y1="255.3" x2="659.88" y2="259.3" stroke="#000" stroke-width="1.5"/>
<text transform="translate(663.88,261.8) scale(1.08,1) rotate(-45)" font-size="5.05" text-anchor="end" class="xl">SC</text>
<line x1="668.44" y1="255.3" x2="668.44" y2="259.3" stroke="#000" stroke-width="1.5"/>
<text transform="translate(672.44,261.8) scale(1.08,1) rotate(-45)" font-size="5.05" text-anchor="end" class="xl">GD</text>
<line x1="677" y1="255.3" x2="677" y2="259.3" stroke="#000" stroke-width="1.5"/>
<text transform="translate(681,261.8) scale(1.08,1) rotate(-45)" font-size="5.05" text-anchor="end" class="xl">SD</text>
<text transform="translate(380.5,203) rotate(-90) scale(1,1.05)" font-size="6.6" text-anchor="middle">TGP's FRFs on Compensating</text>
<text transform="translate(389.6,203) rotate(-90) scale(1,1.05)" font-size="6.80" text-anchor="middle">Variation (billion CNY)</text>
<text x="369.3" y="151.5" font-size="11.5">(d)</text>
<rect x="596.6" y="237.7" width="16.2" height="6.8" fill="#fff" stroke="#B5293B" stroke-width="1.1"/>
<text transform="translate(614.8,243.6) scale(1.03,1)" font-size="7.0">Under F2 scenario</text>
<rect x="416.8" y="356.6" width="6.8" height="35" fill="#fff" stroke="#3C8F3C" stroke-width="1.1"/>
<rect x="425.36" y="329.48" width="6.8" height="25.25" fill="#fff" stroke="#3C8F3C" stroke-width="1.1"/>
<rect x="433.92" y="313.48" width="6.8" height="12.81" fill="#fff" stroke="#3C8F3C" stroke-width="1.1"/>
<rect x="442.48" y="315.35" width="6.8" height="9.81" fill="#fff" stroke="#3C8F3C" stroke-width="1.1"/>
<rect x="451.04" y="306.6" width="6.8" height="2.5" fill="#A6CFA6" stroke="#3C8F3C" stroke-width="1.1"/>
<rect x="459.6" y="306.6" width="6.8" height="0" fill="#A6CFA6" stroke="#3C8F3C" stroke-width="1.1"/>
<rect x="468.16" y="306.6" width="6.8" height="0" fill="#A6CFA6" stroke="#3C8F3C" stroke-width="1.1"/>
<rect x="476.72" y="306.6" width="6.8" height="0" fill="#A6CFA6" stroke="#3C8F3C" stroke-width="1.1"/>
<rect x="485.28" y="305.85" width="6.8" height="0.75" fill="#A6CFA6" stroke="#3C8F3C" stroke-width="1.1"/>
<rect x="493.84" y="305.81" width="6.8" height="0.79" fill="#A6CFA6" stroke="#3C8F3C" stroke-width="1.1"/>
<rect x="502.4" y="305.76" width="6.8" height="0.84" fill="#A6CFA6" stroke="#3C8F3C" stroke-width="1.1"/>
<rect x="510.96" y="305.72" width="6.8" height="0.88" fill="#A6CFA6" stroke="#3C8F3C" stroke-width="1.1"/>
<rect x="519.52" y="305.68" width="6.8" height="0.92" fill="#A6CFA6" stroke="#3C8F3C" stroke-width="1.1"/>
<rect x="528.08" y="305.64" width="6.8" height="0.96" fill="#A6CFA6" stroke="#3C8F3C" stroke-width="1.1"/>
<rect x="536.64" y="305.59" width="6.8" height="1.01" fill="#A6CFA6" stroke="#3C8F3C" stroke-width="1.1"/>
<rect x="545.2" y="305.55" width="6.8" height="1.05" fill="#A6CFA6" stroke="#3C8F3C" stroke-width="1.1"/>
<rect x="553.76" y="305.51" width="6.8" height="1.09" fill="#A6CFA6" stroke="#3C8F3C" stroke-width="1.1"/>
<rect x="562.32" y="305.46" width="6.8" height="1.14" fill="#A6CFA6" stroke="#3C8F3C" stroke-width="1.1"/>
<rect x="570.88" y="305.42" width="6.8" height="1.18" fill="#A6CFA6" stroke="#3C8F3C" stroke-width="1.1"/>
<rect x="579.44" y="305.38" width="6.8" height="1.22" fill="#A6CFA6" stroke="#3C8F3C" stroke-width="1.1"/>
<rect x="588" y="305.34" width="6.8" height="1.26" fill="#A6CFA6" stroke="#3C8F3C" stroke-width="1.1"/>
<rect x="596.56" y="305.29" width="6.8" height="1.31" fill="#A6CFA6" stroke="#3C8F3C" stroke-width="1.1"/>
<rect x="605.12" y="305.25" width="6.8" height="1.35" fill="#A6CFA6" stroke="#3C8F3C" stroke-width="1.1"/>
<rect x="613.68" y="304.6" width="6.8" height="1.31" fill="#A6CFA6" stroke="#3C8F3C" stroke-width="1.1"/>
<rect x="622.24" y="304.1" width="6.8" height="1.69" fill="#A6CFA6" stroke="#3C8F3C" stroke-width="1.1"/>
<rect x="630.8" y="303.35" width="6.8" height="2.25" fill="#A6CFA6" stroke="#3C8F3C" stroke-width="1.1"/>
<rect x="639.36" y="302.1" width="6.8" height="2.62" fill="#A6CFA6" stroke="#3C8F3C" stroke-width="1.1"/>
<rect x="647.92" y="301.85" width="6.8" height="2.75" fill="#A6CFA6" stroke="#3C8F3C" stroke-width="1.1"/>
<rect x="656.48" y="301.73" width="6.8" height="2.88" fill="#A6CFA6" stroke="#3C8F3C" stroke-width="1.1"/>
<rect x="665.04" y="301.6" width="6.8" height="2.88" fill="#A6CFA6" stroke="#3C8F3C" stroke-width="1.1"/>
<rect x="673.6" y="297.98" width="6.8" height="4.62" fill="#fff" stroke="#3C8F3C" stroke-width="1.1"/>
<line x1="414.5" y1="306.6" x2="683.5" y2="306.6" stroke="#000" stroke-width="1.5"/>
<rect x="414.5" y="294.1" width="269" height="102.9" fill="none" stroke="#000" stroke-width="1.5"/>
<line x1="410.2" y1="294.1" x2="414.5" y2="294.1" stroke="#000" stroke-width="1.5"/>
<text transform="translate(407.1,296.5) scale(1.1,1)" font-size="6.5" text-anchor="end">2</text>
<line x1="410.2" y1="306.6" x2="414.5" y2="306.6" stroke="#000" stroke-width="1.5"/>
<text transform="translate(407.1,309) scale(1.1,1)" font-size="6.5" text-anchor="end">0</text>
<line x1="410.2" y1="319.1" x2="414.5" y2="319.1" stroke="#000" stroke-width="1.5"/>
<text transform="translate(407.1,321.5) scale(1.1,1)" font-size="6.5" text-anchor="end">-2</text>
<line x1="410.2" y1="331.6" x2="414.5" y2="331.6" stroke="#000" stroke-width="1.5"/>
<text transform="translate(407.1,334) scale(1.1,1)" font-size="6.5" text-anchor="end">-4</text>
<line x1="410.2" y1="344.1" x2="414.5" y2="344.1" stroke="#000" stroke-width="1.5"/>
<text transform="translate(407.1,346.5) scale(1.1,1)" font-size="6.5" text-anchor="end">-6</text>
<line x1="410.2" y1="356.6" x2="414.5" y2="356.6" stroke="#000" stroke-width="1.5"/>
<text transform="translate(407.1,359) scale(1.1,1)" font-size="6.5" text-anchor="end">-8</text>
<line x1="410.2" y1="369.1" x2="414.5" y2="369.1" stroke="#000" stroke-width="1.5"/>
<text transform="translate(407.1,371.5) scale(1.1,1)" font-size="6.5" text-anchor="end">-10</text>
<line x1="410.2" y1="381.6" x2="414.5" y2="381.6" stroke="#000" stroke-width="1.5"/>
<text transform="translate(407.1,384) scale(1.1,1)" font-size="6.5" text-anchor="end">-12</text>
<line x1="410.2" y1="394.1" x2="414.5" y2="394.1" stroke="#000" stroke-width="1.5"/>
<text transform="translate(407.1,396.5) scale(1.1,1)" font-size="6.5" text-anchor="end">-14</text>
<line x1="412" y1="300.35" x2="414.5" y2="300.35" stroke="#000" stroke-width="1.5"/>
<line x1="412" y1="312.85" x2="414.5" y2="312.85" stroke="#000" stroke-width="1.5"/>
<line x1="412" y1="325.35" x2="414.5" y2="325.35" stroke="#000" stroke-width="1.5"/>
<line x1="412" y1="337.85" x2="414.5" y2="337.85" stroke="#000" stroke-width="1.5"/>
<line x1="412" y1="350.35" x2="414.5" y2="350.35" stroke="#000" stroke-width="1.5"/>
<line x1="412" y1="362.85" x2="414.5" y2="362.85" stroke="#000" stroke-width="1.5"/>
<line x1="412" y1="375.35" x2="414.5" y2="375.35" stroke="#000" stroke-width="1.5"/>
<line x1="412" y1="387.85" x2="414.5" y2="387.85" stroke="#000" stroke-width="1.5"/>
<line x1="420.2" y1="397.0" x2="420.2" y2="401" stroke="#000" stroke-width="1.5"/>
<text transform="translate(424.2,403.5) scale(1.08,1) rotate(-45)" font-size="5.05" text-anchor="end" class="xl">HuB</text>
<line x1="428.76" y1="397.0" x2="428.76" y2="401" stroke="#000" stroke-width="1.5"/>
<text transform="translate(432.76,403.5) scale(1.08,1) rotate(-45)" font-size="5.05" text-anchor="end" class="xl">HuN</text>
<line x1="437.32" y1="397.0" x2="437.32" y2="401" stroke="#000" stroke-width="1.5"/>
<text transform="translate(441.32,403.5) scale(1.08,1) rotate(-45)" font-size="5.05" text-anchor="end" class="xl">JX</text>
<line x1="445.88" y1="397.0" x2="445.88" y2="401" stroke="#000" stroke-width="1.5"/>
<text transform="translate(449.88,403.5) scale(1.08,1) rotate(-45)" font-size="5.05" text-anchor="end" class="xl">AH</text>
<line x1="454.44" y1="397.0" x2="454.44" y2="401" stroke="#000" stroke-width="1.5"/>
<text transform="translate(458.44,403.5) scale(1.08,1) rotate(-45)" font-size="5.05" text-anchor="end" class="xl">JS</text>
<line x1="463" y1="397.0" x2="463" y2="401" stroke="#000" stroke-width="1.5"/>
<text transform="translate(467,403.5) scale(1.08,1) rotate(-45)" font-size="5.05" text-anchor="end" class="xl">ZJ</text>
<line x1="471.56" y1="397.0" x2="471.56" y2="401" stroke="#000" stroke-width="1.5"/>
<text transform="translate(475.56,403.5) scale(1.08,1) rotate(-45)" font-size="5.05" text-anchor="end" class="xl">XZ</text>
<line x1="480.12" y1="397.0" x2="480.12" y2="401" stroke="#000" stroke-width="1.5"/>
<text transform="translate(484.12,403.5) scale(1.08,1) rotate(-45)" font-size="5.05" text-anchor="end" class="xl">QH</text>
<line x1="488.68" y1="397.0" x2="488.68" y2="401" stroke="#000" stroke-width="1.5"/>
<text transform="translate(492.68,403.5) scale(1.08,1) rotate(-45)" font-size="5.05" text-anchor="end" class="xl">NX</text>
<line x1="497.24" y1="397.0" x2="497.24" y2="401" stroke="#000" stroke-width="1.5"/>
<text transform="translate(501.24,403.5) scale(1.08,1) rotate(-45)" font-size="5.05" text-anchor="end" class="xl">HaiN</text>
<line x1="505.8" y1="397.0" x2="505.8" y2="401" stroke="#000" stroke-width="1.5"/>
<text transform="translate(509.8,403.5) scale(1.08,1) rotate(-45)" font-size="5.05" text-anchor="end" class="xl">XinJ</text>
<line x1="514.36" y1="397.0" x2="514.36" y2="401" stroke="#000" stroke-width="1.5"/>
<text transform="translate(518.36,403.5) scale(1.08,1) rotate(-45)" font-size="5.05" text-anchor="end" class="xl">GS</text>
<line x1="522.92" y1="397.0" x2="522.92" y2="401" stroke="#000" stroke-width="1.5"/>
<text transform="translate(526.92,403.5) scale(1.08,1) rotate(-45)" font-size="5.05" text-anchor="end" class="xl">TJ</text>
<line x1="531.48" y1="397.0" x2="531.48" y2="401" stroke="#000" stroke-width="1.5"/>
<text transform="translate(535.48,403.5) scale(1.08,1) rotate(-45)" font-size="5.05" text-anchor="end" class="xl">NM</text>
<line x1="540.04" y1="397.0" x2="540.04" y2="401" stroke="#000" stroke-width="1.5"/>
<text transform="translate(544.04,403.5) scale(1.08,1) rotate(-45)" font-size="5.05" text-anchor="end" class="xl">SX</text>
<line x1="548.6" y1="397.0" x2="548.6" y2="401" stroke="#000" stroke-width="1.5"/>
<text transform="translate(552.6,403.5) scale(1.08,1) rotate(-45)" font-size="5.05" text-anchor="end" class="xl">JL</text>
<line x1="557.16" y1="397.0" x2="557.16" y2="401" stroke="#000" stroke-width="1.5"/>
<text transform="translate(561.16,403.5) scale(1.08,1) rotate(-45)" font-size="5.05" text-anchor="end" class="xl">SH</text>
<line x1="565.72" y1="397.0" x2="565.72" y2="401" stroke="#000" stroke-width="1.5"/>
<text transform="translate(569.72,403.5) scale(1.08,1) rotate(-45)" font-size="5.05" text-anchor="end" class="xl">GZ</text>
<line x1="574.28" y1="397.0" x2="574.28" y2="401" stroke="#000" stroke-width="1.5"/>
<text transform="translate(578.28,403.5) scale(1.08,1) rotate(-45)" font-size="5.05" text-anchor="end" class="xl">BJ</text>
<line x1="582.84" y1="397.0" x2="582.84" y2="401" stroke="#000" stroke-width="1.5"/>
<text transform="translate(586.84,403.5) scale(1.08,1) rotate(-45)" font-size="5.05" text-anchor="end" class="xl">CQ</text>
<line x1="591.4" y1="397.0" x2="591.4" y2="401" stroke="#000" stroke-width="1.5"/>
<text transform="translate(595.4,403.5) scale(1.08,1) rotate(-45)" font-size="5.05" text-anchor="end" class="xl">YN</text>
<line x1="599.96" y1="397.0" x2="599.96" y2="401" stroke="#000" stroke-width="1.5"/>
<text transform="translate(603.96,403.5) scale(1.08,1) rotate(-45)" font-size="5.05" text-anchor="end" class="xl">SaX</text>
<line x1="608.52" y1="397.0" x2="608.52" y2="401" stroke="#000" stroke-width="1.5"/>
<text transform="translate(612.52,403.5) scale(1.08,1) rotate(-45)" font-size="5.05" text-anchor="end" class="xl">FJ</text>
<line x1="617.08" y1="397.0" x2="617.08" y2="401" stroke="#000" stroke-width="1.5"/>
<text transform="translate(621.08,403.5) scale(1.08,1) rotate(-45)" font-size="5.05" text-anchor="end" class="xl">GX</text>
<line x1="625.64" y1="397.0" x2="625.64" y2="401" stroke="#000" stroke-width="1.5"/>
<text transform="translate(629.64,403.5) scale(1.08,1) rotate(-45)" font-size="5.05" text-anchor="end" class="xl">HLJ</text>
<line x1="634.2" y1="397.0" x2="634.2" y2="401" stroke="#000" stroke-width="1.5"/>
<text transform="translate(638.2,403.5) scale(1.08,1) rotate(-45)" font-size="5.05" text-anchor="end" class="xl">LN</text>
<line x1="642.76" y1="397.0" x2="642.76" y2="401" stroke="#000" stroke-width="1.5"/>
<text transform="translate(646.76,403.5) scale(1.08,1) rotate(-45)" font-size="5.05" text-anchor="end" class="xl">HB</text>
<line x1="651.32" y1="397.0" x2="651.32" y2="401" stroke="#000" stroke-width="1.5"/>
<text transform="translate(655.32,403.5) scale(1.08,1) rotate(-45)" font-size="5.05" text-anchor="end" class="xl">HeN</text>
<line x1="659.88" y1="397.0" x2="659.88" y2="401" stroke="#000" stroke-width="1.5"/>
<text transform="translate(663.88,403.5) scale(1.08,1) rotate(-45)" font-size="5.05" text-anchor="end" class="xl">SC</text>
<line x1="668.44" y1="397.0" x2="668.44" y2="401" stroke="#000" stroke-width="1.5"/>
<text transform="translate(672.44,403.5) scale(1.08,1) rotate(-45)" font-size="5.05" text-anchor="end" class="xl">GD</text>
<line x1="677" y1="397.0" x2="677" y2="401" stroke="#000" stroke-width="1.5"/>
<text transform="translate(681,403.5) scale(1.08,1) rotate(-45)" font-size="5.05" text-anchor="end" class="xl">SD</text>
<text transform="translate(380.5,345) rotate(-90) scale(1,1.05)" font-size="6.6" text-anchor="middle">TGP's FRFs on Compensating</text>
<text transform="translate(389.6,345) rotate(-90) scale(1,1.05)" font-size="6.80" text-anchor="middle">Variation (billion CNY)</text>
<text x="369.3" y="293" font-size="11.5">(f)</text>
<rect x="596.6" y="379.4" width="16.2" height="6.8" fill="#fff" stroke="#3C8F3C" stroke-width="1.1"/>
<text transform="translate(614.8,384.9) scale(1.03,1)" font-size="7.0">Under F3 scenario</text>
</svg></body></html>
